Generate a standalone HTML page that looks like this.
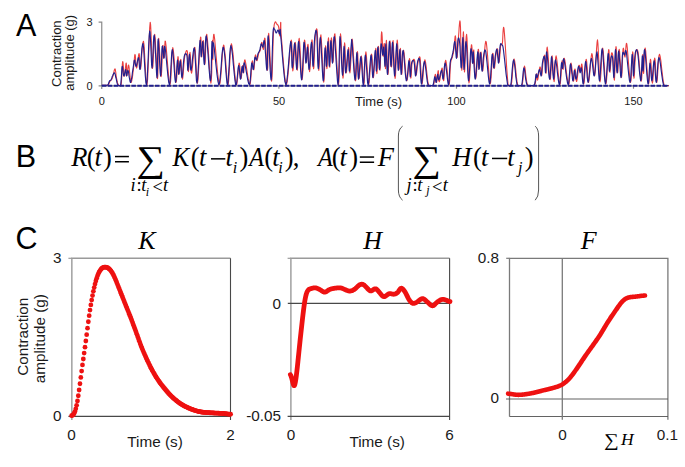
<!DOCTYPE html>
<html><head><meta charset="utf-8"><style>
html,body{margin:0;padding:0;background:#fff;}
svg{display:block;}
</style></head><body>
<svg width="685" height="467" viewBox="0 0 685 467">
<rect width="685" height="467" fill="#fff"/>
<g font-family="Liberation Sans" font-size="30.5" fill="#000"><text x="15.9" y="36.2">A</text><text x="15.7" y="166.6">B</text><text x="15.6" y="248.7">C</text></g><g font-family="Liberation Sans" font-size="13" fill="#1a1a1a"><text transform="translate(60.5,53.65) rotate(-90)" text-anchor="middle">Contraction</text><text transform="translate(74.4,52.75) rotate(-90)" text-anchor="middle">amplitude (g)</text><text x="354.98" y="106">Time (s)</text></g><g font-family="Liberation Sans" font-size="11" fill="#1a1a1a"><text x="92.6" y="25.9" text-anchor="end">3</text><text x="92.6" y="89.5" text-anchor="end">0</text><text x="101.75" y="104.9" text-anchor="middle">0</text><text x="279" y="104.9" text-anchor="middle">50</text><text x="456.5" y="104.9" text-anchor="middle">100</text><text x="633.5" y="104.9" text-anchor="middle">150</text></g><path d="M98.6,22.2 H101.75 V89 M101.75,85.8 H669 M278.9,85.8 V88.8 M456.5,85.8 V88.8 M633.5,85.8 V88.8 M98.6,85.8 H101.75" stroke="#8a8a8a" stroke-width="1.2" fill="none"/><path d="M102.1,85.3 L102.7,85.3 L103.5,85.3 L104.4,85.3 L105.4,85.4 L106.2,85.3 L106.9,85.3 L107.4,85.2 L107.7,85.2 L107.9,85.1 L108.1,85.0 L108.3,84.8 L108.5,84.5 L108.8,84.0 L109.0,83.5 L109.3,82.8 L109.6,82.1 L109.8,81.5 L110.1,81.0 L110.4,80.7 L110.6,80.4 L110.9,80.2 L111.2,80.1 L111.5,79.8 L111.7,79.5 L111.9,79.1 L112.1,78.6 L112.3,78.1 L112.5,77.5 L112.7,76.8 L113.0,76.0 L113.3,74.8 L113.6,73.3 L114.0,71.6 L114.3,70.1 L114.7,69.1 L115.0,68.8 L115.3,69.4 L115.5,70.8 L115.8,72.5 L116.0,74.5 L116.2,76.4 L116.5,78.0 L116.8,79.3 L117.0,80.6 L117.3,81.8 L117.5,82.9 L117.8,83.8 L118.2,84.5 L118.6,85.2 L119.1,85.6 L119.7,85.6 L120.2,85.6 L120.7,85.6 L121.1,85.3 L121.4,82.3 L121.7,77.8 L122.0,72.6 L122.2,67.6 L122.4,63.6 L122.7,61.6 L123.0,62.2 L123.2,64.7 L123.5,68.3 L123.7,72.0 L124.0,75.0 L124.3,76.3 L124.6,75.4 L125.0,73.0 L125.3,69.8 L125.6,66.6 L125.9,64.0 L126.2,63.0 L126.4,63.9 L126.5,66.1 L126.6,69.1 L126.7,72.2 L126.8,74.5 L127.0,75.6 L127.2,74.9 L127.4,72.7 L127.7,70.0 L128.0,67.3 L128.3,65.4 L128.6,65.0 L129.0,66.6 L129.3,69.9 L129.8,73.9 L130.2,77.9 L130.6,81.0 L131.0,82.5 L131.4,82.1 L131.8,80.5 L132.3,78.0 L132.7,75.1 L133.0,72.1 L133.4,69.5 L133.7,66.8 L134.0,63.6 L134.2,60.3 L134.5,57.4 L134.7,55.3 L135.0,54.4 L135.3,55.3 L135.5,57.8 L135.7,61.2 L136.0,64.5 L136.3,67.0 L136.6,68.0 L137.0,66.9 L137.4,64.1 L137.9,60.6 L138.3,57.2 L138.7,54.5 L139.1,53.5 L139.4,54.8 L139.6,58.0 L139.8,62.0 L140.0,65.8 L140.3,68.4 L140.6,68.8 L141.0,65.8 L141.4,60.1 L141.9,53.2 L142.4,46.7 L143.0,42.2 L143.5,41.2 L144.1,45.6 L144.6,54.5 L145.2,65.3 L145.8,75.7 L146.4,83.0 L147.0,85.0 L147.6,79.4 L148.1,67.9 L148.7,53.4 L149.2,39.0 L149.7,27.6 L150.2,22.2 L150.6,24.5 L151.0,32.5 L151.4,43.5 L151.8,55.0 L152.1,64.1 L152.5,68.5 L152.9,66.5 L153.2,60.1 L153.6,51.5 L153.9,42.8 L154.3,36.4 L154.7,34.3 L155.2,38.1 L155.6,46.4 L156.2,56.8 L156.7,67.2 L157.1,75.2 L157.5,78.6 L157.8,75.9 L158.0,68.6 L158.1,58.9 L158.3,49.1 L158.4,41.5 L158.7,38.4 L159.0,41.0 L159.4,47.9 L159.9,57.0 L160.3,66.2 L160.7,73.5 L161.1,76.7 L161.4,75.1 L161.7,69.9 L162.0,62.8 L162.2,55.3 L162.4,49.1 L162.7,45.6 L163.0,45.4 L163.2,47.4 L163.5,50.7 L163.8,54.1 L164.1,56.8 L164.3,57.7 L164.5,55.9 L164.6,52.2 L164.7,47.6 L164.9,43.5 L165.1,41.1 L165.5,41.5 L166.1,46.2 L166.8,54.5 L167.6,64.5 L168.4,74.1 L169.2,81.6 L169.9,84.8 L170.5,82.4 L171.0,75.7 L171.4,66.7 L171.9,57.6 L172.3,50.5 L172.8,47.5 L173.3,49.9 L173.9,56.0 L174.5,64.2 L175.0,72.6 L175.5,79.3 L176.0,82.4 L176.4,81.1 L176.8,76.7 L177.1,70.6 L177.4,64.3 L177.7,59.1 L178.0,56.6 L178.2,57.4 L178.4,60.4 L178.6,64.5 L178.8,68.9 L179.0,72.4 L179.2,73.9 L179.4,72.9 L179.7,70.2 L180.0,66.5 L180.2,62.9 L180.5,60.2 L180.8,59.4 L181.1,61.2 L181.3,65.0 L181.6,69.8 L181.9,74.4 L182.2,77.9 L182.5,79.1 L182.8,77.6 L183.2,74.1 L183.5,69.5 L183.9,64.5 L184.3,59.9 L184.7,56.7 L185.1,54.5 L185.6,52.7 L186.1,51.3 L186.5,50.6 L186.9,50.5 L187.3,51.3 L187.6,53.6 L187.8,57.6 L187.9,62.3 L188.1,66.8 L188.2,70.2 L188.4,71.6 L188.6,70.2 L188.9,66.7 L189.2,62.0 L189.4,57.3 L189.7,53.8 L190.0,52.4 L190.2,54.1 L190.5,58.1 L190.7,63.2 L190.9,68.3 L191.2,72.0 L191.6,73.2 L192.0,70.9 L192.6,65.7 L193.1,59.3 L193.7,53.0 L194.3,48.5 L194.8,47.2 L195.3,50.6 L195.7,57.7 L196.2,66.5 L196.6,75.0 L197.0,81.2 L197.5,83.2 L198.0,79.5 L198.5,71.5 L199.1,61.2 L199.6,50.7 L200.1,42.0 L200.5,37.2 L200.8,37.1 L201.0,40.2 L201.2,45.2 L201.3,50.5 L201.5,54.9 L201.7,56.9 L201.9,55.8 L202.2,52.6 L202.5,48.4 L202.8,44.3 L203.0,41.3 L203.3,40.5 L203.6,42.7 L203.8,47.4 L204.1,53.2 L204.3,58.8 L204.6,62.9 L204.9,64.2 L205.2,61.4 L205.4,55.3 L205.7,47.7 L206.0,40.4 L206.4,35.4 L206.8,34.3 L207.4,39.0 L208.1,48.1 L208.9,59.5 L209.6,70.7 L210.3,79.3 L210.9,83.1 L211.3,80.5 L211.7,73.3 L211.9,63.6 L212.1,53.4 L212.3,45.0 L212.5,40.4 L212.6,40.5 L212.7,43.8 L212.7,48.9 L212.8,54.2 L212.8,58.3 L212.9,59.6 L213.0,57.1 L213.1,51.7 L213.1,45.0 L213.3,38.8 L213.6,34.6 L214.0,34.3 L214.7,39.3 L215.5,48.8 L216.5,60.3 L217.5,71.7 L218.5,80.6 L219.3,84.8 L220.0,83.2 L220.7,77.3 L221.4,69.0 L222.0,60.1 L222.5,52.3 L223.0,47.6 L223.4,45.7 L223.7,45.1 L224.0,45.8 L224.2,47.4 L224.5,49.8 L224.9,52.7 L225.4,57.3 L225.9,64.1 L226.4,71.6 L227.0,78.5 L227.5,83.4 L228.1,84.8 L228.6,81.2 L229.1,73.5 L229.7,63.7 L230.2,54.0 L230.8,46.6 L231.4,43.7 L232.1,46.5 L233.0,53.6 L233.8,63.0 L234.7,72.7 L235.5,80.6 L236.2,84.8 L236.8,84.4 L237.3,80.8 L237.8,75.5 L238.3,69.9 L238.7,65.3 L239.1,63.1 L239.5,63.8 L239.8,66.5 L240.1,70.2 L240.4,74.0 L240.7,77.1 L241.0,78.5 L241.3,77.7 L241.6,75.5 L241.8,72.5 L242.1,69.4 L242.4,66.9 L242.6,65.6 L242.8,65.8 L243.0,67.2 L243.2,69.1 L243.3,71.0 L243.5,72.4 L243.7,72.6 L243.9,71.2 L244.0,68.5 L244.1,65.2 L244.3,62.1 L244.6,60.1 L245.0,59.9 L245.6,62.5 L246.4,67.2 L247.3,73.0 L248.2,78.7 L249.1,83.0 L249.8,84.8 L250.3,83.3 L250.8,79.3 L251.2,74.0 L251.5,68.4 L251.9,63.7 L252.2,61.1 L252.5,60.9 L252.8,62.5 L253.0,64.9 L253.3,67.4 L253.5,69.3 L253.8,69.8 L254.1,68.4 L254.3,65.8 L254.6,62.5 L254.9,59.2 L255.1,56.5 L255.4,55.0 L255.7,54.9 L255.9,55.8 L256.2,57.4 L256.5,59.0 L256.7,60.3 L257.0,60.7 L257.3,60.2 L257.5,59.1 L257.8,57.7 L258.1,56.1 L258.3,54.6 L258.6,53.5 L258.9,52.8 L259.1,52.3 L259.4,51.9 L259.7,51.6 L259.9,51.1 L260.2,50.3 L260.5,49.1 L260.7,47.5 L261.0,45.7 L261.3,44.1 L261.5,42.9 L261.8,42.4 L262.1,42.8 L262.3,44.2 L262.6,46.0 L262.9,47.7 L263.1,49.0 L263.4,49.3 L263.7,48.0 L263.9,45.4 L264.1,42.4 L264.4,39.6 L264.7,38.1 L265.0,38.6 L265.4,42.2 L265.8,48.5 L266.3,56.1 L266.7,63.2 L267.1,68.5 L267.5,70.3 L267.8,67.1 L267.9,59.9 L268.1,50.8 L268.2,42.0 L268.4,35.4 L268.7,33.4 L269.1,37.6 L269.6,46.6 L270.1,58.0 L270.6,69.2 L271.2,77.7 L271.6,81.1 L272.0,78.1 L272.3,70.6 L272.6,60.5 L272.9,49.5 L273.2,39.6 L273.5,32.6 L273.8,28.5 L274.1,25.9 L274.3,24.3 L274.6,23.4 L274.8,22.8 L275.1,22.2 L275.4,21.8 L275.6,21.9 L275.9,22.3 L276.2,22.9 L276.4,23.5 L276.7,24.0 L277.0,24.3 L277.3,24.5 L277.6,24.7 L277.9,25.1 L278.2,25.6 L278.5,26.4 L278.8,27.9 L279.0,29.9 L279.3,32.2 L279.5,34.2 L279.7,35.6 L279.9,35.9 L280.1,34.6 L280.2,31.9 L280.3,28.6 L280.5,25.4 L280.6,23.0 L280.7,22.2 L280.8,22.9 L280.8,24.5 L280.8,26.9 L280.9,30.1 L281.1,34.2 L281.5,39.0 L282.1,46.0 L282.8,55.5 L283.7,65.8 L284.6,75.2 L285.5,82.1 L286.4,84.8 L287.2,81.7 L288.1,73.8 L289.0,63.3 L289.8,52.7 L290.6,44.1 L291.2,40.0 L291.6,41.5 L291.9,46.9 L292.2,54.5 L292.3,62.2 L292.5,68.3 L292.8,70.9 L293.2,68.9 L293.6,63.7 L294.0,56.7 L294.4,49.8 L294.8,44.4 L295.2,42.2 L295.6,44.3 L295.9,49.5 L296.3,56.4 L296.6,63.2 L297.0,68.3 L297.3,70.2 L297.6,67.5 L297.9,61.3 L298.2,53.4 L298.5,45.8 L298.8,40.1 L299.2,38.4 L299.6,41.9 L300.1,49.7 L300.6,59.5 L301.1,69.1 L301.6,76.6 L302.1,79.6 L302.5,77.0 L303.0,70.1 L303.4,61.0 L303.8,51.7 L304.1,44.0 L304.5,40.1 L304.8,40.7 L305.2,44.4 L305.5,49.8 L305.8,55.6 L306.1,60.2 L306.4,62.3 L306.7,61.1 L307.0,57.6 L307.2,52.9 L307.5,48.4 L307.7,45.1 L308.0,44.3 L308.3,46.9 L308.5,52.2 L308.8,58.8 L309.0,65.2 L309.3,69.9 L309.6,71.6 L310.0,69.0 L310.4,63.1 L310.8,55.6 L311.2,48.1 L311.6,42.3 L312.0,39.8 L312.3,41.8 L312.6,47.2 L312.9,54.3 L313.1,61.3 L313.3,66.8 L313.6,68.8 L313.9,66.8 L314.1,61.9 L314.4,55.4 L314.6,48.3 L314.9,42.0 L315.2,37.5 L315.5,34.4 L315.9,31.8 L316.2,29.8 L316.5,28.8 L316.9,29.1 L317.2,31.0 L317.5,35.8 L317.7,43.5 L318.0,52.6 L318.2,61.2 L318.5,67.7 L318.8,70.5 L319.1,67.9 L319.4,61.1 L319.8,52.2 L320.1,43.4 L320.5,36.9 L320.9,34.9 L321.3,39.0 L321.8,47.6 L322.3,58.6 L322.8,69.5 L323.3,78.1 L323.7,82.1 L324.1,80.2 L324.4,74.0 L324.7,65.5 L325.0,56.6 L325.3,49.4 L325.6,45.8 L325.8,46.8 L326.1,51.0 L326.3,56.9 L326.5,62.8 L326.7,67.3 L326.9,68.7 L327.2,65.9 L327.4,60.1 L327.7,52.8 L328.0,45.5 L328.2,40.0 L328.5,37.7 L328.7,39.8 L328.9,45.2 L329.2,52.3 L329.4,59.5 L329.6,65.0 L329.8,67.2 L330.0,65.1 L330.3,59.8 L330.6,52.9 L330.9,45.8 L331.1,40.3 L331.4,37.9 L331.7,39.5 L331.9,44.0 L332.2,50.1 L332.4,56.1 L332.7,60.7 L333.0,62.3 L333.3,59.7 L333.5,53.8 L333.8,46.4 L334.1,39.3 L334.5,34.5 L334.9,33.7 L335.4,38.8 L336.0,48.6 L336.7,60.7 L337.4,72.4 L338.0,81.3 L338.5,84.8 L338.9,81.1 L339.3,71.9 L339.6,59.8 L339.9,47.6 L340.2,38.1 L340.5,33.9 L340.9,36.7 L341.3,44.6 L341.8,55.1 L342.2,65.8 L342.6,74.3 L343.0,78.2 L343.3,76.1 L343.6,69.9 L343.9,61.4 L344.1,52.8 L344.3,45.9 L344.6,42.9 L344.9,44.8 L345.1,50.1 L345.3,57.3 L345.6,64.6 L345.9,70.4 L346.2,72.9 L346.6,71.3 L347.0,66.7 L347.4,60.6 L347.9,54.4 L348.3,49.6 L348.6,47.6 L348.9,49.6 L349.1,54.3 L349.3,60.5 L349.5,66.6 L349.7,71.2 L349.9,72.9 L350.2,70.9 L350.5,66.2 L350.9,60.1 L351.2,53.5 L351.5,47.8 L351.8,43.9 L352.0,41.6 L352.1,39.9 L352.1,39.0 L352.2,39.0 L352.4,40.1 L352.6,42.5 L353.0,47.4 L353.4,54.9 L354.0,63.4 L354.5,71.6 L355.1,77.9 L355.5,80.8 L355.9,79.2 L356.2,74.0 L356.5,66.9 L356.8,59.7 L357.1,54.0 L357.4,51.6 L357.7,53.4 L357.9,58.3 L358.2,64.7 L358.4,71.2 L358.7,76.4 L359.0,78.7 L359.4,77.2 L359.7,72.9 L360.2,67.2 L360.6,61.6 L361.0,57.4 L361.4,56.0 L361.8,58.5 L362.2,64.1 L362.6,71.0 L363.0,77.9 L363.4,83.0 L363.8,84.8 L364.2,82.1 L364.5,76.0 L364.8,68.1 L365.2,60.3 L365.5,54.3 L365.9,51.9 L366.3,54.3 L366.7,60.4 L367.2,68.2 L367.7,76.1 L368.1,82.2 L368.6,84.8 L369.1,82.7 L369.6,77.3 L370.1,70.1 L370.6,62.7 L371.1,56.9 L371.5,54.1 L371.9,55.5 L372.2,59.9 L372.5,65.8 L372.8,71.7 L373.1,76.1 L373.4,77.6 L373.8,75.1 L374.2,69.8 L374.7,62.9 L375.1,56.1 L375.5,50.8 L375.8,48.4 L376.1,50.1 L376.2,54.8 L376.4,60.9 L376.6,67.2 L376.7,71.9 L376.9,73.7 L377.1,71.6 L377.4,66.6 L377.6,60.1 L377.9,53.6 L378.1,48.5 L378.4,46.3 L378.7,48.1 L378.9,52.8 L379.2,59.0 L379.5,65.0 L379.7,69.3 L380.0,70.3 L380.3,66.8 L380.5,59.8 L380.8,51.0 L381.1,42.3 L381.3,35.3 L381.6,31.8 L381.9,32.7 L382.2,36.7 L382.4,42.4 L382.7,48.6 L383.0,53.6 L383.2,56.3 L383.4,55.9 L383.6,53.4 L383.8,49.9 L383.9,46.3 L384.1,43.9 L384.3,43.5 L384.5,46.1 L384.7,51.0 L384.9,57.0 L385.1,62.8 L385.3,67.0 L385.5,68.6 L385.7,66.2 L385.8,60.8 L385.9,53.9 L386.1,47.1 L386.2,42.1 L386.4,40.4 L386.6,43.2 L386.9,49.7 L387.1,57.8 L387.4,65.9 L387.7,72.0 L388.0,74.5 L388.3,72.1 L388.6,66.1 L388.9,58.1 L389.3,50.0 L389.6,43.6 L389.9,40.7 L390.2,42.2 L390.5,47.0 L390.7,53.4 L391.0,59.9 L391.2,64.9 L391.5,67.0 L391.8,64.9 L392.0,59.7 L392.3,53.0 L392.5,46.5 L392.8,41.8 L393.1,40.5 L393.4,44.0 L393.7,51.3 L394.1,60.3 L394.4,69.2 L394.8,75.9 L395.1,78.5 L395.5,75.8 L395.8,68.8 L396.2,59.8 L396.5,50.6 L396.9,43.4 L397.2,40.0 L397.5,41.7 L397.8,46.8 L398.0,53.9 L398.3,61.2 L398.5,67.1 L398.8,69.9 L399.1,68.7 L399.3,64.8 L399.6,59.4 L399.9,53.9 L400.2,49.8 L400.4,48.4 L400.6,50.5 L400.8,55.4 L401.0,61.5 L401.2,67.6 L401.5,72.3 L401.7,74.3 L402.0,72.6 L402.2,68.0 L402.5,62.0 L402.8,56.1 L403.2,51.7 L403.6,50.3 L404.1,52.8 L404.6,58.4 L405.2,65.4 L405.7,72.5 L406.3,78.1 L406.8,80.7 L407.3,79.6 L407.8,75.7 L408.3,70.3 L408.7,64.8 L409.1,60.4 L409.5,58.5 L409.8,59.8 L410.0,63.2 L410.2,67.9 L410.4,72.6 L410.6,76.4 L410.8,78.2 L411.0,77.5 L411.2,75.3 L411.4,72.0 L411.6,68.5 L411.8,65.3 L412.1,63.1 L412.4,61.7 L412.8,60.5 L413.3,59.7 L413.7,59.3 L414.1,59.4 L414.5,60.1 L414.8,61.9 L415.1,64.8 L415.3,68.2 L415.6,71.4 L415.8,73.9 L416.1,75.0 L416.4,74.4 L416.7,72.5 L417.0,69.9 L417.3,66.9 L417.7,64.3 L418.0,62.3 L418.3,60.7 L418.7,59.1 L419.1,57.7 L419.4,56.8 L419.8,56.8 L420.1,57.9 L420.4,61.1 L420.7,66.2 L421.0,72.2 L421.3,77.9 L421.6,82.2 L422.0,84.0 L422.4,82.3 L422.9,77.8 L423.3,71.9 L423.8,66.0 L424.4,61.5 L424.9,59.7 L425.4,61.3 L426.0,65.3 L426.6,70.7 L427.2,76.4 L427.8,81.5 L428.5,84.8 L429.3,85.6 L430.1,85.6 L431.0,85.6 L431.9,85.6 L432.6,85.6 L433.3,85.3 L433.8,83.9 L434.2,81.8 L434.5,79.3 L434.8,77.0 L435.0,75.2 L435.3,74.3 L435.6,74.8 L435.8,76.3 L436.0,78.4 L436.2,80.5 L436.4,82.0 L436.6,82.4 L436.9,81.3 L437.1,79.1 L437.4,76.3 L437.7,73.5 L438.0,71.4 L438.2,70.6 L438.4,71.4 L438.5,73.5 L438.7,76.3 L438.8,79.0 L439.0,81.1 L439.3,81.8 L439.7,80.6 L440.2,78.0 L440.7,74.8 L441.2,71.6 L441.7,69.0 L442.1,68.0 L442.4,69.0 L442.7,71.5 L442.9,74.8 L443.2,77.9 L443.4,80.2 L443.7,80.7 L444.0,78.7 L444.3,74.6 L444.6,69.7 L444.9,64.9 L445.3,61.4 L445.7,60.2 L446.2,62.3 L446.8,66.8 L447.4,72.6 L448.0,78.4 L448.5,82.9 L449.0,84.8 L449.4,83.7 L449.7,80.4 L449.9,75.8 L450.1,70.9 L450.4,66.3 L450.6,63.1 L450.9,61.3 L451.1,60.1 L451.4,59.4 L451.7,58.9 L451.9,58.3 L452.2,57.5 L452.5,56.5 L452.7,55.5 L453.0,54.4 L453.3,53.3 L453.5,51.9 L453.8,50.3 L454.1,47.9 L454.3,44.7 L454.6,41.3 L454.9,38.3 L455.1,36.3 L455.4,35.9 L455.7,37.9 L455.9,42.1 L456.2,47.2 L456.5,52.2 L456.7,56.0 L457.0,57.5 L457.3,56.3 L457.5,53.1 L457.8,48.7 L458.1,43.8 L458.3,39.1 L458.6,35.5 L458.9,32.0 L459.1,28.1 L459.4,24.5 L459.7,21.8 L459.9,20.8 L460.2,22.2 L460.5,27.6 L460.7,36.8 L461.0,47.7 L461.3,58.3 L461.5,66.4 L461.8,70.1 L462.1,67.8 L462.4,60.8 L462.6,51.4 L462.9,42.0 L463.2,34.6 L463.4,31.8 L463.6,34.9 L463.8,42.3 L463.9,51.9 L464.1,61.5 L464.3,68.9 L464.5,72.0 L464.8,69.2 L465.1,62.0 L465.5,52.6 L465.8,43.4 L466.2,36.5 L466.6,34.3 L467.0,38.4 L467.4,47.4 L467.8,58.7 L468.2,70.0 L468.6,78.9 L469.0,83.0 L469.4,81.0 L469.8,74.6 L470.2,65.7 L470.7,56.4 L471.0,48.8 L471.4,44.7 L471.7,44.9 L472.0,48.0 L472.3,52.6 L472.6,57.6 L472.8,61.7 L473.0,63.7 L473.2,62.8 L473.3,60.0 L473.4,56.2 L473.5,52.6 L473.6,50.2 L473.8,50.0 L474.0,53.0 L474.3,58.6 L474.6,65.3 L475.0,71.8 L475.3,76.7 L475.7,78.6 L476.1,76.5 L476.6,71.3 L477.1,64.5 L477.5,57.5 L477.9,51.9 L478.3,49.2 L478.6,50.0 L478.8,53.4 L478.9,58.2 L479.1,63.1 L479.2,67.0 L479.4,68.7 L479.6,67.6 L479.9,64.5 L480.2,60.4 L480.4,56.2 L480.7,53.1 L481.0,52.0 L481.3,53.5 L481.5,57.0 L481.8,61.4 L482.1,65.9 L482.3,69.5 L482.6,71.0 L482.9,70.4 L483.1,68.2 L483.4,65.1 L483.6,61.5 L483.9,58.0 L484.2,55.1 L484.5,52.2 L484.8,48.6 L485.1,45.1 L485.5,42.4 L485.8,41.2 L486.3,42.3 L486.8,46.9 L487.5,54.8 L488.2,64.3 L488.9,73.4 L489.5,80.6 L490.1,84.0 L490.6,82.5 L491.1,77.4 L491.5,70.3 L492.0,62.8 L492.3,56.5 L492.7,53.2 L493.0,53.4 L493.3,55.9 L493.6,59.7 L493.8,63.7 L494.0,67.0 L494.3,68.4 L494.6,67.7 L494.8,65.8 L495.1,63.1 L495.4,60.1 L495.6,57.2 L495.9,55.1 L496.2,53.4 L496.4,51.8 L496.7,50.3 L497.0,49.2 L497.2,48.7 L497.5,48.8 L497.8,50.2 L498.0,52.9 L498.3,56.1 L498.6,59.2 L498.8,61.4 L499.1,62.1 L499.4,60.9 L499.6,58.2 L499.9,54.7 L500.2,51.0 L500.4,47.8 L500.7,45.5 L501.0,44.5 L501.2,44.3 L501.5,44.5 L501.8,44.7 L502.0,44.6 L502.3,43.7 L502.6,41.1 L502.8,37.0 L503.0,32.6 L503.3,28.9 L503.6,27.2 L504.0,28.6 L504.5,34.4 L505.2,43.9 L505.9,55.3 L506.6,66.9 L507.4,77.1 L508.0,84.0 L508.6,85.6 L509.1,85.6 L509.7,85.6 L510.2,85.6 L510.7,85.6 L511.2,85.3 L511.7,81.9 L512.2,76.7 L512.6,70.6 L513.1,65.0 L513.6,60.7 L514.1,59.0 L514.6,60.6 L515.2,64.7 L515.8,70.3 L516.3,76.2 L517.0,81.4 L517.6,84.8 L518.3,85.6 L519.1,85.6 L519.9,85.6 L520.7,85.6 L521.5,85.6 L522.1,85.3 L522.6,82.8 L523.0,79.0 L523.4,74.6 L523.7,70.4 L524.1,67.4 L524.5,66.1 L524.9,67.3 L525.3,70.2 L525.7,74.2 L526.2,78.5 L526.8,82.3 L527.5,84.8 L528.5,85.6 L529.7,85.6 L531.1,85.6 L532.4,85.6 L533.6,85.6 L534.5,85.3 L535.1,83.9 L535.6,81.7 L535.9,79.2 L536.1,76.8 L536.3,74.8 L536.5,73.8 L536.7,74.1 L536.9,75.3 L537.0,77.1 L537.2,78.8 L537.4,80.0 L537.6,80.1 L537.9,78.8 L538.3,76.3 L538.8,73.3 L539.2,70.4 L539.6,68.0 L540.0,66.9 L540.3,67.3 L540.6,68.9 L540.9,71.2 L541.2,73.4 L541.5,75.1 L541.7,75.6 L541.9,74.7 L542.1,72.8 L542.3,70.4 L542.5,67.7 L542.7,65.2 L542.9,63.1 L543.2,61.2 L543.5,59.2 L543.9,57.3 L544.3,55.8 L544.6,55.1 L544.9,55.3 L545.1,57.3 L545.4,61.0 L545.6,65.4 L545.7,69.5 L545.9,72.5 L546.1,73.2 L546.3,70.7 L546.4,65.6 L546.5,59.2 L546.7,53.1 L546.9,48.6 L547.2,47.1 L547.6,49.8 L548.1,55.7 L548.6,63.2 L549.1,70.8 L549.6,76.8 L550.1,79.7 L550.5,78.4 L550.8,74.0 L551.2,68.1 L551.5,62.1 L551.8,57.5 L552.1,55.8 L552.4,57.8 L552.8,62.6 L553.1,68.8 L553.4,75.0 L553.8,79.7 L554.1,81.6 L554.4,79.7 L554.7,74.8 L555.0,68.6 L555.3,62.3 L555.7,57.6 L556.1,55.9 L556.6,58.2 L557.3,63.5 L557.9,70.2 L558.6,77.1 L559.3,82.4 L559.8,84.8 L560.3,83.5 L560.7,79.6 L561.1,74.2 L561.4,68.5 L561.7,63.7 L562.0,61.0 L562.2,60.7 L562.4,62.1 L562.6,64.4 L562.8,66.9 L562.9,68.8 L563.1,69.4 L563.3,68.3 L563.4,65.8 L563.6,62.7 L563.7,59.9 L564.0,58.2 L564.4,58.3 L565.0,61.1 L565.7,66.1 L566.4,72.2 L567.2,78.1 L568.0,82.7 L568.6,84.8 L569.1,83.5 L569.5,79.6 L569.9,74.4 L570.3,69.1 L570.6,64.9 L571.0,63.0 L571.4,64.1 L571.8,67.3 L572.2,71.5 L572.7,75.9 L573.0,79.4 L573.4,81.2 L573.7,80.6 L574.0,78.4 L574.2,75.4 L574.5,72.3 L574.7,69.8 L575.0,68.9 L575.3,69.9 L575.5,72.3 L575.8,75.4 L576.0,78.5 L576.3,80.8 L576.6,81.5 L577.0,80.2 L577.4,77.4 L577.8,73.7 L578.2,70.0 L578.6,67.0 L579.0,65.2 L579.3,65.2 L579.6,66.3 L579.9,68.0 L580.1,69.9 L580.4,71.3 L580.6,71.9 L580.8,71.1 L581.0,69.4 L581.2,67.2 L581.4,65.2 L581.7,64.0 L581.9,64.2 L582.2,66.4 L582.5,70.4 L582.8,75.2 L583.1,79.7 L583.4,83.0 L583.8,84.0 L584.2,81.9 L584.6,77.2 L585.0,71.4 L585.4,65.5 L585.8,61.0 L586.2,59.2 L586.6,60.8 L587.0,65.3 L587.4,71.0 L587.7,76.7 L588.2,81.0 L588.6,82.4 L589.1,80.0 L589.6,74.7 L590.2,68.0 L590.7,61.3 L591.3,56.0 L591.8,53.5 L592.3,54.9 L592.8,59.2 L593.3,65.0 L593.8,70.6 L594.2,74.7 L594.7,75.6 L595.2,72.1 L595.7,65.1 L596.1,56.5 L596.6,48.2 L597.1,42.0 L597.5,39.9 L597.9,43.3 L598.3,51.0 L598.8,60.8 L599.2,70.7 L599.6,78.5 L600.0,82.0 L600.4,79.9 L600.9,73.7 L601.3,65.4 L601.8,57.0 L602.2,50.6 L602.7,48.1 L603.2,50.9 L603.7,57.5 L604.3,66.1 L604.8,74.7 L605.4,81.3 L605.9,84.0 L606.4,81.7 L606.9,75.6 L607.4,67.6 L607.9,59.4 L608.3,52.7 L608.7,49.5 L609.0,50.5 L609.2,54.4 L609.4,59.9 L609.5,65.7 L609.7,70.3 L609.9,72.3 L610.1,71.3 L610.4,68.3 L610.7,64.1 L611.0,59.6 L611.2,55.8 L611.5,53.6 L611.8,52.8 L612.0,52.8 L612.3,53.4 L612.6,54.6 L612.9,56.3 L613.1,58.3 L613.3,61.6 L613.5,66.3 L613.8,71.6 L614.0,76.3 L614.2,79.4 L614.4,80.1 L614.6,77.0 L614.9,70.8 L615.2,63.0 L615.5,55.3 L615.7,49.3 L616.0,46.6 L616.3,48.1 L616.5,52.7 L616.8,59.1 L617.1,65.6 L617.3,70.7 L617.6,72.8 L617.9,71.2 L618.1,66.8 L618.4,61.0 L618.6,55.2 L618.9,50.8 L619.2,49.3 L619.6,51.7 L619.9,56.9 L620.4,63.6 L620.8,70.2 L621.1,75.3 L621.5,77.3 L621.8,75.3 L622.1,70.6 L622.3,64.2 L622.6,57.6 L622.8,52.0 L623.1,48.7 L623.4,48.2 L623.7,49.6 L624.0,51.9 L624.4,54.5 L624.7,56.5 L625.0,57.1 L625.3,55.5 L625.5,52.4 L625.8,48.6 L626.1,45.3 L626.4,43.4 L626.8,43.9 L627.3,48.1 L627.9,55.5 L628.6,64.2 L629.3,72.8 L629.9,79.4 L630.5,82.4 L631.0,80.7 L631.4,75.3 L631.7,67.9 L632.1,60.4 L632.4,54.5 L632.7,51.9 L633.0,53.6 L633.2,58.3 L633.4,64.6 L633.6,71.0 L633.8,76.0 L634.0,78.1 L634.2,76.8 L634.5,73.1 L634.7,68.0 L635.0,62.5 L635.3,57.6 L635.6,54.3 L635.9,52.3 L636.3,50.7 L636.7,49.8 L637.1,49.6 L637.5,50.2 L638.0,51.9 L638.5,55.6 L639.1,61.4 L639.6,68.0 L640.2,74.3 L640.8,79.1 L641.2,81.1 L641.6,79.4 L641.9,74.7 L642.1,68.5 L642.4,62.2 L642.6,57.1 L642.8,54.6 L643.0,55.6 L643.1,59.2 L643.2,64.0 L643.3,68.8 L643.4,72.3 L643.6,73.4 L643.8,71.1 L644.0,66.0 L644.2,59.6 L644.5,53.6 L644.8,49.2 L645.2,48.0 L645.7,51.1 L646.2,57.7 L646.8,66.0 L647.4,74.2 L648.0,80.8 L648.5,84.0 L648.9,82.8 L649.3,78.4 L649.6,72.3 L649.9,66.1 L650.2,61.2 L650.5,59.2 L650.8,60.9 L651.1,65.4 L651.4,71.2 L651.7,77.0 L652.1,81.5 L652.4,83.2 L652.8,81.3 L653.1,76.6 L653.5,70.6 L653.9,64.6 L654.3,59.9 L654.7,58.0 L655.1,59.8 L655.4,64.4 L655.7,70.4 L656.1,76.3 L656.4,80.8 L656.8,82.4 L657.2,80.1 L657.6,74.7 L658.0,67.9 L658.4,61.2 L658.9,56.1 L659.5,54.2 L660.1,56.2 L660.9,61.1 L661.6,67.7 L662.4,74.6 L663.2,80.8 L664.0,84.8 L664.8,85.6 L665.8,85.6 L666.7,85.6 L667.5,85.6 L668.3,85.6 L668.8,85.3" stroke="#ea4040" stroke-width="1.1" fill="none" stroke-linejoin="round"/><path d="M101.6,85.3 L102.2,85.3 L103.0,85.3 L103.9,85.3 L104.9,85.4 L105.7,85.3 L106.4,85.3 L106.9,85.2 L107.2,85.2 L107.4,85.1 L107.6,85.0 L107.8,84.8 L108.0,84.5 L108.3,84.0 L108.5,83.5 L108.8,82.8 L109.1,82.1 L109.3,81.5 L109.6,81.0 L109.9,80.7 L110.1,80.4 L110.4,80.2 L110.7,80.1 L111.0,79.8 L111.2,79.5 L111.4,79.0 L111.6,78.5 L111.8,77.9 L112.0,77.2 L112.2,76.6 L112.5,76.0 L112.8,75.4 L113.1,74.6 L113.5,73.9 L113.8,73.2 L114.2,72.8 L114.5,72.8 L114.8,73.2 L115.0,73.9 L115.3,74.8 L115.5,75.9 L115.7,77.0 L116.0,78.0 L116.3,79.1 L116.5,80.3 L116.8,81.5 L117.0,82.7 L117.3,83.7 L117.7,84.5 L118.1,85.2 L118.6,85.6 L119.2,85.6 L119.7,85.6 L120.2,85.6 L120.6,85.3 L120.9,83.0 L121.2,79.4 L121.5,75.3 L121.7,71.3 L121.9,68.1 L122.2,66.4 L122.5,66.5 L122.7,68.1 L123.0,70.4 L123.2,72.9 L123.5,75.0 L123.8,76.0 L124.1,75.7 L124.5,74.5 L124.8,72.9 L125.1,71.3 L125.4,70.0 L125.7,69.5 L125.9,70.0 L126.0,71.1 L126.1,72.7 L126.2,74.2 L126.3,75.5 L126.5,76.0 L126.7,75.6 L126.9,74.4 L127.2,72.9 L127.5,71.5 L127.8,70.5 L128.1,70.5 L128.5,71.8 L128.8,74.1 L129.2,77.0 L129.7,79.7 L130.1,81.7 L130.5,82.5 L130.9,81.7 L131.3,79.9 L131.8,77.3 L132.2,74.5 L132.5,71.8 L132.9,69.5 L133.2,67.5 L133.5,65.5 L133.8,63.5 L134.0,61.9 L134.2,60.6 L134.5,60.0 L134.8,60.3 L135.0,61.5 L135.2,63.2 L135.5,64.8 L135.8,66.0 L136.1,66.4 L136.5,65.6 L136.9,63.8 L137.4,61.7 L137.8,59.6 L138.2,58.0 L138.6,57.6 L138.9,58.8 L139.1,61.4 L139.3,64.6 L139.5,67.6 L139.8,69.5 L140.1,69.5 L140.5,66.6 L140.9,61.2 L141.4,54.7 L141.9,48.6 L142.5,44.5 L143.0,43.6 L143.6,47.7 L144.1,55.9 L144.7,66.1 L145.3,75.8 L145.9,82.8 L146.5,85.0 L147.1,80.5 L147.6,70.7 L148.2,58.3 L148.7,45.8 L149.2,35.8 L149.7,31.0 L150.1,32.7 L150.5,39.2 L150.9,48.2 L151.3,57.5 L151.6,64.8 L152.0,68.0 L152.4,65.7 L152.7,59.4 L153.1,51.1 L153.4,43.0 L153.8,36.9 L154.2,35.0 L154.7,38.7 L155.1,46.6 L155.7,56.6 L156.2,66.6 L156.6,74.3 L157.0,77.6 L157.3,75.0 L157.5,67.9 L157.6,58.6 L157.8,49.3 L157.9,42.0 L158.2,39.0 L158.5,41.6 L158.9,48.2 L159.4,56.9 L159.8,65.8 L160.2,72.8 L160.6,76.0 L160.9,74.4 L161.2,69.5 L161.5,62.7 L161.7,55.6 L161.9,49.6 L162.2,46.3 L162.5,46.2 L162.7,48.1 L163.0,51.1 L163.3,54.5 L163.6,57.2 L163.8,58.3 L164.0,57.2 L164.1,54.4 L164.2,51.0 L164.4,48.0 L164.6,46.3 L165.0,47.0 L165.6,51.3 L166.3,58.7 L167.1,67.4 L167.9,75.8 L168.7,82.2 L169.4,84.8 L170.0,82.4 L170.5,75.9 L170.9,67.5 L171.4,58.9 L171.8,52.3 L172.3,49.5 L172.8,51.7 L173.4,57.5 L174.0,65.1 L174.5,73.0 L175.0,79.3 L175.5,82.4 L175.9,81.4 L176.3,77.7 L176.6,72.4 L176.9,66.8 L177.2,62.2 L177.5,60.0 L177.7,60.6 L177.9,63.1 L178.1,66.7 L178.3,70.3 L178.5,73.2 L178.7,74.4 L178.9,73.4 L179.2,70.8 L179.5,67.4 L179.7,64.0 L180.0,61.5 L180.3,60.7 L180.6,62.2 L180.8,65.5 L181.1,69.6 L181.4,73.6 L181.7,76.6 L182.0,77.6 L182.3,76.1 L182.7,72.7 L183.0,68.3 L183.4,63.6 L183.8,59.5 L184.2,56.7 L184.6,55.1 L185.1,54.1 L185.6,53.6 L186.0,53.7 L186.4,54.2 L186.8,55.1 L187.1,57.0 L187.3,60.1 L187.4,63.6 L187.6,66.9 L187.7,69.4 L187.9,70.3 L188.1,69.1 L188.4,66.1 L188.7,62.2 L188.9,58.4 L189.2,55.5 L189.5,54.3 L189.7,55.6 L190.0,58.7 L190.2,62.7 L190.4,66.6 L190.7,69.5 L191.1,70.3 L191.5,68.1 L192.1,63.5 L192.6,57.9 L193.2,52.5 L193.8,48.7 L194.3,47.9 L194.8,51.3 L195.2,58.3 L195.7,66.8 L196.1,75.1 L196.5,81.2 L197.0,83.2 L197.5,79.9 L198.0,72.6 L198.6,63.2 L199.1,53.4 L199.6,45.3 L200.0,40.7 L200.3,40.3 L200.5,42.9 L200.7,47.0 L200.8,51.5 L201.0,55.2 L201.2,56.7 L201.4,55.5 L201.7,52.5 L202.0,48.6 L202.3,44.9 L202.5,42.2 L202.8,41.5 L203.1,43.7 L203.3,48.3 L203.6,54.0 L203.8,59.4 L204.1,63.4 L204.4,64.7 L204.7,62.1 L204.9,56.2 L205.2,48.9 L205.5,42.0 L205.9,37.0 L206.3,35.9 L206.9,40.1 L207.6,48.5 L208.4,59.0 L209.1,69.3 L209.8,77.3 L210.4,80.8 L210.8,78.5 L211.2,71.9 L211.4,62.9 L211.6,53.6 L211.8,45.8 L212.0,41.5 L212.1,41.4 L212.2,44.1 L212.2,48.4 L212.3,53.0 L212.3,56.7 L212.4,58.3 L212.5,57.0 L212.6,53.5 L212.6,49.1 L212.8,45.1 L213.1,42.7 L213.5,43.1 L214.2,47.6 L215.0,55.6 L216.0,65.2 L217.0,74.4 L218.0,81.6 L218.8,84.8 L219.5,83.0 L220.2,77.6 L220.9,70.0 L221.5,61.9 L222.0,54.8 L222.5,50.3 L222.9,48.2 L223.2,47.3 L223.5,47.3 L223.7,48.3 L224.0,50.2 L224.4,52.7 L224.9,57.2 L225.4,63.8 L225.9,71.4 L226.5,78.3 L227.0,83.2 L227.6,84.8 L228.1,81.5 L228.6,74.1 L229.2,64.7 L229.7,55.4 L230.3,48.3 L230.9,45.5 L231.6,48.2 L232.5,54.9 L233.3,63.9 L234.2,73.1 L235.0,80.7 L235.7,84.8 L236.3,84.6 L236.8,81.5 L237.3,76.8 L237.8,71.7 L238.2,67.5 L238.6,65.5 L239.0,66.2 L239.3,68.6 L239.6,72.0 L239.9,75.4 L240.2,78.1 L240.5,79.2 L240.8,78.4 L241.1,76.2 L241.3,73.2 L241.6,70.1 L241.9,67.6 L242.1,66.3 L242.3,66.5 L242.5,67.6 L242.7,69.4 L242.8,71.1 L243.0,72.4 L243.2,72.8 L243.4,71.7 L243.5,69.5 L243.6,66.8 L243.8,64.4 L244.1,62.8 L244.5,62.8 L245.1,65.1 L245.9,69.4 L246.8,74.5 L247.7,79.5 L248.6,83.3 L249.3,84.8 L249.8,83.4 L250.3,79.8 L250.7,74.9 L251.0,69.9 L251.4,65.6 L251.7,63.1 L252.0,62.8 L252.3,63.8 L252.5,65.7 L252.8,67.7 L253.0,69.2 L253.3,69.5 L253.6,68.4 L253.8,66.3 L254.1,63.8 L254.4,61.1 L254.6,58.9 L254.9,57.5 L255.2,57.2 L255.4,57.6 L255.7,58.3 L256.0,59.2 L256.2,59.8 L256.5,59.9 L256.8,59.3 L257.0,58.3 L257.3,57.0 L257.6,55.7 L257.8,54.5 L258.1,53.5 L258.4,52.8 L258.6,52.3 L258.9,51.9 L259.2,51.5 L259.4,51.0 L259.7,50.3 L260.0,49.3 L260.2,48.0 L260.5,46.7 L260.8,45.4 L261.0,44.4 L261.3,43.9 L261.6,44.0 L261.8,44.6 L262.1,45.5 L262.4,46.3 L262.6,47.0 L262.9,47.1 L263.2,46.3 L263.4,44.6 L263.6,42.7 L263.9,41.1 L264.2,40.5 L264.5,41.5 L264.9,45.0 L265.3,50.9 L265.8,57.7 L266.2,64.1 L266.6,68.8 L267.0,70.3 L267.3,67.3 L267.4,60.6 L267.6,52.1 L267.7,43.9 L267.9,37.8 L268.2,35.9 L268.6,39.8 L269.1,48.2 L269.6,58.8 L270.1,69.2 L270.7,77.0 L271.1,80.0 L271.5,76.9 L271.8,69.3 L272.1,59.3 L272.4,48.5 L272.7,39.0 L273.0,32.6 L273.3,29.4 L273.6,28.0 L273.8,27.8 L274.1,28.3 L274.3,29.0 L274.6,29.4 L274.9,29.7 L275.1,30.3 L275.4,31.2 L275.7,32.0 L275.9,32.7 L276.2,33.0 L276.5,32.8 L276.8,32.2 L277.1,31.5 L277.4,30.7 L277.7,30.2 L278.0,30.0 L278.3,30.4 L278.5,31.1 L278.8,32.1 L279.0,33.0 L279.2,33.8 L279.4,34.0 L279.6,33.6 L279.7,32.6 L279.8,31.3 L280.0,30.2 L280.1,29.4 L280.2,29.4 L280.3,29.8 L280.3,30.2 L280.3,31.0 L280.4,32.6 L280.6,35.1 L281.0,39.0 L281.6,45.6 L282.3,54.9 L283.2,65.2 L284.1,74.8 L285.0,81.9 L285.9,84.8 L286.7,81.9 L287.6,74.4 L288.5,64.4 L289.3,54.1 L290.1,45.7 L290.7,41.5 L291.1,42.5 L291.4,47.1 L291.7,53.6 L291.8,60.4 L292.0,65.8 L292.3,68.0 L292.7,66.2 L293.1,61.6 L293.5,55.6 L293.9,49.5 L294.3,44.9 L294.7,43.1 L295.1,45.2 L295.4,50.1 L295.8,56.5 L296.1,62.8 L296.5,67.7 L296.8,69.5 L297.1,67.2 L297.4,61.7 L297.7,54.7 L298.0,47.9 L298.3,42.9 L298.7,41.5 L299.1,45.0 L299.6,52.2 L300.1,61.4 L300.6,70.3 L301.1,77.2 L301.6,80.0 L302.0,77.4 L302.5,70.9 L302.9,62.3 L303.3,53.4 L303.6,46.1 L304.0,42.3 L304.3,42.8 L304.7,46.3 L305.0,51.3 L305.3,56.7 L305.6,61.1 L305.9,63.1 L306.2,62.1 L306.5,59.1 L306.7,55.0 L307.0,51.0 L307.2,48.0 L307.5,47.1 L307.8,49.2 L308.0,53.6 L308.2,59.0 L308.5,64.3 L308.8,68.2 L309.1,69.5 L309.5,67.2 L309.9,62.2 L310.3,55.8 L310.7,49.4 L311.1,44.4 L311.5,42.3 L311.8,43.9 L312.1,48.5 L312.4,54.4 L312.6,60.3 L312.8,64.8 L313.1,66.3 L313.4,64.3 L313.6,59.7 L313.9,53.7 L314.1,47.3 L314.4,41.5 L314.7,37.5 L315.0,34.8 L315.4,32.6 L315.7,31.0 L316.0,30.3 L316.4,30.8 L316.7,32.6 L317.0,37.0 L317.2,44.1 L317.5,52.3 L317.7,60.1 L318.0,66.1 L318.3,68.7 L318.6,66.5 L318.9,60.5 L319.3,52.6 L319.6,44.9 L320.0,39.2 L320.4,37.5 L320.8,41.3 L321.3,49.2 L321.8,59.3 L322.3,69.3 L322.8,77.1 L323.2,80.8 L323.6,79.1 L323.9,73.6 L324.2,65.9 L324.5,57.9 L324.8,51.3 L325.1,47.9 L325.3,48.5 L325.6,51.8 L325.8,56.6 L326.0,61.5 L326.2,65.1 L326.4,66.3 L326.7,64.1 L326.9,59.4 L327.2,53.5 L327.5,47.7 L327.7,43.3 L328.0,41.5 L328.2,43.3 L328.4,48.0 L328.7,54.0 L328.9,59.9 L329.1,64.5 L329.3,66.3 L329.5,64.4 L329.8,59.7 L330.1,53.6 L330.4,47.5 L330.6,42.8 L330.9,40.7 L331.2,42.2 L331.4,46.4 L331.7,52.0 L331.9,57.5 L332.2,61.6 L332.5,63.1 L332.8,60.7 L333.0,55.2 L333.3,48.3 L333.6,41.8 L334.0,37.4 L334.4,36.7 L334.9,41.5 L335.5,50.8 L336.2,62.1 L336.9,73.1 L337.5,81.5 L338.0,84.8 L338.4,81.3 L338.8,72.7 L339.1,61.4 L339.4,49.9 L339.7,40.8 L340.0,36.7 L340.4,38.9 L340.8,45.6 L341.3,54.8 L341.7,64.2 L342.1,71.7 L342.5,75.2 L342.8,73.6 L343.1,68.5 L343.4,61.5 L343.6,54.3 L343.8,48.7 L344.1,46.3 L344.4,48.1 L344.6,52.9 L344.8,59.2 L345.1,65.6 L345.4,70.6 L345.7,72.8 L346.1,71.3 L346.5,67.1 L346.9,61.5 L347.4,55.8 L347.8,51.4 L348.1,49.5 L348.4,51.1 L348.6,55.2 L348.8,60.6 L349.0,65.9 L349.2,69.9 L349.4,71.2 L349.7,69.2 L350.0,64.7 L350.4,59.0 L350.7,52.9 L351.0,47.5 L351.3,43.9 L351.5,41.8 L351.6,40.3 L351.6,39.5 L351.7,39.6 L351.9,40.7 L352.1,43.1 L352.5,47.8 L352.9,55.0 L353.5,63.2 L354.0,71.1 L354.6,77.1 L355.0,80.0 L355.4,78.5 L355.7,73.7 L356.0,67.0 L356.3,60.2 L356.6,54.9 L356.9,52.7 L357.2,54.6 L357.4,59.4 L357.7,65.7 L357.9,72.0 L358.2,77.0 L358.5,79.2 L358.9,77.7 L359.2,73.5 L359.7,67.9 L360.1,62.3 L360.5,58.1 L360.9,56.7 L361.3,59.1 L361.7,64.5 L362.1,71.2 L362.5,77.8 L362.9,82.9 L363.3,84.8 L363.7,82.5 L364.0,77.0 L364.3,69.8 L364.7,62.7 L365.0,57.3 L365.4,55.1 L365.8,57.3 L366.2,62.8 L366.7,69.9 L367.2,77.1 L367.6,82.6 L368.1,84.8 L368.6,82.7 L369.1,77.4 L369.6,70.4 L370.1,63.3 L370.6,57.7 L371.0,55.1 L371.4,56.4 L371.7,60.6 L372.0,66.2 L372.3,71.9 L372.6,76.1 L372.9,77.6 L373.3,75.4 L373.7,70.4 L374.2,64.0 L374.6,57.7 L375.0,52.6 L375.3,50.3 L375.6,51.5 L375.7,55.4 L375.9,60.5 L376.1,65.8 L376.2,69.8 L376.4,71.2 L376.6,69.2 L376.9,64.8 L377.1,59.1 L377.4,53.4 L377.6,48.9 L377.9,47.1 L378.2,48.7 L378.4,52.9 L378.7,58.4 L379.0,63.9 L379.2,68.0 L379.5,69.5 L379.8,67.6 L380.0,63.2 L380.3,57.4 L380.6,51.5 L380.8,46.6 L381.1,43.9 L381.4,43.9 L381.7,45.6 L381.9,48.4 L382.2,51.4 L382.5,53.9 L382.7,55.1 L382.9,54.6 L383.1,52.8 L383.3,50.6 L383.4,48.5 L383.6,47.1 L383.8,47.1 L384.0,49.2 L384.2,53.0 L384.4,57.6 L384.6,62.0 L384.8,65.2 L385.0,66.3 L385.2,64.4 L385.3,60.0 L385.4,54.4 L385.6,49.0 L385.7,45.1 L385.9,43.9 L386.1,46.7 L386.4,52.5 L386.6,59.8 L386.9,67.0 L387.2,72.4 L387.5,74.4 L387.8,71.9 L388.1,66.0 L388.4,58.3 L388.8,50.5 L389.1,44.4 L389.4,41.5 L389.7,42.9 L390.0,47.3 L390.2,53.3 L390.5,59.5 L390.7,64.3 L391.0,66.3 L391.3,64.5 L391.5,59.8 L391.8,53.7 L392.0,47.8 L392.3,43.5 L392.6,42.3 L392.9,45.3 L393.2,51.7 L393.6,59.7 L393.9,67.5 L394.3,73.5 L394.6,76.0 L395.0,73.8 L395.3,68.0 L395.7,60.4 L396.0,52.7 L396.4,46.6 L396.7,43.9 L397.0,45.5 L397.3,50.1 L397.5,56.4 L397.8,62.8 L398.0,68.0 L398.3,70.3 L398.6,69.0 L398.8,65.2 L399.1,60.0 L399.4,54.8 L399.7,50.9 L399.9,49.5 L400.1,51.6 L400.3,56.2 L400.5,62.2 L400.7,68.0 L401.0,72.6 L401.2,74.4 L401.5,72.6 L401.7,68.0 L402.0,62.0 L402.3,56.1 L402.7,51.7 L403.1,50.3 L403.6,52.8 L404.1,58.3 L404.7,65.3 L405.2,72.4 L405.8,78.0 L406.3,80.8 L406.8,80.0 L407.3,76.5 L407.8,71.7 L408.2,66.6 L408.6,62.5 L409.0,60.7 L409.3,61.6 L409.5,64.5 L409.7,68.3 L409.9,72.3 L410.1,75.4 L410.3,76.8 L410.5,76.1 L410.7,74.0 L410.9,71.1 L411.1,67.9 L411.3,65.0 L411.6,63.1 L411.9,61.9 L412.3,61.1 L412.8,60.5 L413.2,60.4 L413.6,60.7 L414.0,61.5 L414.3,63.3 L414.6,66.2 L414.8,69.5 L415.1,72.7 L415.3,75.0 L415.6,76.0 L415.9,75.2 L416.2,73.1 L416.5,70.2 L416.8,67.1 L417.2,64.3 L417.5,62.3 L417.8,60.9 L418.2,59.7 L418.6,58.7 L418.9,58.3 L419.3,58.6 L419.6,59.9 L419.9,62.9 L420.2,67.7 L420.5,73.2 L420.8,78.4 L421.1,82.4 L421.5,84.0 L421.9,82.4 L422.4,78.3 L422.8,72.8 L423.3,67.3 L423.9,63.1 L424.4,61.5 L424.9,63.0 L425.5,66.7 L426.1,71.7 L426.7,77.0 L427.3,81.7 L428.0,84.8 L428.8,85.6 L429.6,85.6 L430.5,85.6 L431.4,85.6 L432.1,85.6 L432.8,85.3 L433.3,84.2 L433.7,82.6 L434.0,80.7 L434.3,78.9 L434.5,77.5 L434.8,76.8 L435.1,77.1 L435.3,78.1 L435.5,79.6 L435.7,81.0 L435.9,82.1 L436.1,82.4 L436.4,81.7 L436.6,80.2 L436.9,78.4 L437.2,76.6 L437.5,75.1 L437.7,74.4 L437.9,74.7 L438.0,75.8 L438.2,77.3 L438.3,78.8 L438.5,79.8 L438.8,80.0 L439.2,79.1 L439.7,77.2 L440.2,74.9 L440.7,72.7 L441.2,71.0 L441.6,70.3 L441.9,71.0 L442.2,72.8 L442.4,75.2 L442.7,77.4 L442.9,78.9 L443.2,79.2 L443.5,77.5 L443.8,74.3 L444.1,70.3 L444.4,66.6 L444.8,63.9 L445.2,63.1 L445.7,65.0 L446.3,69.1 L446.9,74.3 L447.5,79.4 L448.0,83.3 L448.5,84.8 L448.9,83.5 L449.2,80.2 L449.4,75.7 L449.6,70.7 L449.9,66.3 L450.1,63.1 L450.4,61.3 L450.6,60.1 L450.9,59.4 L451.2,58.9 L451.4,58.3 L451.7,57.5 L452.0,56.4 L452.2,55.3 L452.5,54.1 L452.8,52.9 L453.0,51.6 L453.3,50.3 L453.6,48.6 L453.8,46.5 L454.1,44.4 L454.4,42.6 L454.6,41.5 L454.9,41.5 L455.2,43.2 L455.4,46.5 L455.7,50.6 L456.0,54.4 L456.2,57.3 L456.5,58.3 L456.8,56.9 L457.0,53.7 L457.3,49.5 L457.6,45.1 L457.8,41.4 L458.1,39.1 L458.4,38.2 L458.6,37.9 L458.9,38.3 L459.2,39.4 L459.4,41.0 L459.7,43.1 L460.0,46.7 L460.2,51.9 L460.5,57.7 L460.8,63.0 L461.0,66.8 L461.3,68.0 L461.6,65.4 L461.9,59.6 L462.1,52.3 L462.4,45.1 L462.7,39.6 L462.9,37.5 L463.1,39.9 L463.3,45.8 L463.4,53.3 L463.6,61.0 L463.8,66.9 L464.0,69.5 L464.3,67.5 L464.6,62.1 L465.0,55.0 L465.3,48.1 L465.7,43.0 L466.1,41.5 L466.5,45.0 L466.9,52.3 L467.3,61.4 L467.7,70.5 L468.1,77.6 L468.5,80.8 L468.9,79.0 L469.3,73.7 L469.8,66.3 L470.2,58.6 L470.5,52.2 L470.9,48.7 L471.2,48.7 L471.5,51.0 L471.8,54.6 L472.1,58.5 L472.3,61.6 L472.5,63.1 L472.7,62.3 L472.8,59.8 L472.9,56.7 L473.0,53.7 L473.1,51.8 L473.3,51.9 L473.5,54.9 L473.8,60.2 L474.1,66.6 L474.5,72.7 L474.8,77.4 L475.2,79.2 L475.6,77.3 L476.1,72.5 L476.6,66.2 L477.0,59.7 L477.4,54.5 L477.8,51.9 L478.1,52.6 L478.3,55.7 L478.4,60.0 L478.6,64.5 L478.7,68.0 L478.9,69.5 L479.1,68.3 L479.4,65.1 L479.7,61.0 L479.9,57.0 L480.2,53.9 L480.5,52.7 L480.8,54.1 L481.0,57.5 L481.3,61.9 L481.6,66.3 L481.8,69.7 L482.1,71.2 L482.4,70.4 L482.6,67.9 L482.9,64.5 L483.1,60.8 L483.4,57.4 L483.7,55.1 L484.0,53.4 L484.3,51.8 L484.6,50.5 L485.0,49.9 L485.3,50.2 L485.8,51.9 L486.3,55.9 L487.0,62.3 L487.7,69.6 L488.4,76.6 L489.0,81.8 L489.6,84.0 L490.1,82.1 L490.6,77.1 L491.0,70.3 L491.5,63.3 L491.8,57.5 L492.2,54.3 L492.5,54.4 L492.8,56.6 L493.1,60.1 L493.3,63.8 L493.5,66.8 L493.8,68.0 L494.1,67.3 L494.3,65.4 L494.6,62.8 L494.9,59.8 L495.1,57.1 L495.4,55.1 L495.7,53.5 L495.9,52.0 L496.2,50.6 L496.5,49.7 L496.7,49.2 L497.0,49.5 L497.3,51.0 L497.5,53.8 L497.8,57.1 L498.1,60.2 L498.3,62.4 L498.6,63.1 L498.9,61.8 L499.1,58.9 L499.4,55.2 L499.7,51.3 L499.9,47.8 L500.2,45.5 L500.5,44.3 L500.7,43.8 L501.0,43.6 L501.3,43.9 L501.5,44.3 L501.8,44.7 L502.1,44.9 L502.3,45.1 L502.5,45.3 L502.8,46.1 L503.1,47.7 L503.5,50.3 L504.0,54.7 L504.7,60.7 L505.4,67.4 L506.1,74.1 L506.9,79.9 L507.5,84.0 L508.1,85.6 L508.6,85.6 L509.2,85.6 L509.7,85.6 L510.2,85.6 L510.7,85.3 L511.2,82.0 L511.7,76.9 L512.1,71.1 L512.6,65.6 L513.1,61.5 L513.6,59.9 L514.1,61.4 L514.7,65.4 L515.3,70.7 L515.8,76.4 L516.5,81.5 L517.1,84.8 L517.8,85.6 L518.6,85.6 L519.4,85.6 L520.2,85.6 L521.0,85.6 L521.6,85.3 L522.1,83.0 L522.5,79.6 L522.9,75.6 L523.2,71.8 L523.6,69.0 L524.0,67.9 L524.4,68.9 L524.8,71.6 L525.2,75.2 L525.7,79.1 L526.3,82.5 L527.0,84.8 L528.0,85.6 L529.2,85.6 L530.6,85.6 L531.9,85.6 L533.1,85.6 L534.0,85.3 L534.6,84.0 L535.1,82.0 L535.4,79.7 L535.6,77.4 L535.8,75.5 L536.0,74.4 L536.2,74.2 L536.4,74.8 L536.5,75.8 L536.7,76.8 L536.9,77.6 L537.1,77.6 L537.4,76.7 L537.8,75.2 L538.3,73.3 L538.7,71.5 L539.1,70.1 L539.5,69.5 L539.8,70.0 L540.1,71.3 L540.4,73.0 L540.7,74.7 L541.0,75.9 L541.2,76.0 L541.4,74.9 L541.6,72.9 L541.8,70.4 L542.0,67.6 L542.2,65.1 L542.4,63.1 L542.7,61.4 L543.0,59.7 L543.4,58.1 L543.8,56.9 L544.1,56.4 L544.4,56.7 L544.6,58.5 L544.9,61.8 L545.1,65.7 L545.2,69.3 L545.4,72.0 L545.6,72.8 L545.8,70.9 L545.9,66.8 L546.0,61.6 L546.2,56.7 L546.4,53.0 L546.7,51.9 L547.1,54.2 L547.6,59.3 L548.1,65.7 L548.6,72.0 L549.1,77.0 L549.6,79.2 L550.0,77.8 L550.3,73.7 L550.7,68.2 L551.0,62.7 L551.3,58.4 L551.6,56.7 L551.9,58.3 L552.3,62.4 L552.6,67.8 L552.9,73.1 L553.3,77.3 L553.6,79.2 L553.9,77.9 L554.2,74.2 L554.5,69.4 L554.8,64.6 L555.2,61.0 L555.6,59.9 L556.1,62.0 L556.8,66.7 L557.4,72.5 L558.1,78.3 L558.8,82.8 L559.3,84.8 L559.8,83.6 L560.2,80.0 L560.6,75.2 L560.9,70.1 L561.2,65.7 L561.5,63.1 L561.7,62.6 L561.9,63.4 L562.1,65.0 L562.3,66.8 L562.4,68.1 L562.6,68.5 L562.8,67.4 L562.9,65.2 L563.1,62.5 L563.2,60.2 L563.5,58.8 L563.9,59.1 L564.5,61.9 L565.2,66.8 L565.9,72.7 L566.7,78.4 L567.5,82.8 L568.1,84.8 L568.6,83.6 L569.0,79.9 L569.4,74.9 L569.8,69.8 L570.1,65.7 L570.5,63.9 L570.9,64.8 L571.3,67.7 L571.7,71.7 L572.2,75.8 L572.5,79.1 L572.9,80.8 L573.2,80.4 L573.5,78.6 L573.8,76.0 L574.0,73.4 L574.2,71.2 L574.5,70.3 L574.8,70.9 L575.0,72.6 L575.2,74.9 L575.5,77.1 L575.8,78.8 L576.1,79.2 L576.5,78.1 L576.9,75.8 L577.3,72.9 L577.7,70.0 L578.1,67.6 L578.5,66.3 L578.8,66.4 L579.1,67.4 L579.4,69.0 L579.6,70.8 L579.9,72.1 L580.1,72.8 L580.3,72.4 L580.5,71.3 L580.7,69.8 L580.9,68.5 L581.2,67.7 L581.4,68.0 L581.7,69.9 L582.0,73.2 L582.3,77.1 L582.6,80.7 L582.9,83.3 L583.3,84.0 L583.7,82.0 L584.1,77.7 L584.5,72.4 L584.9,67.2 L585.3,63.2 L585.7,61.5 L586.1,63.0 L586.5,66.9 L586.9,72.0 L587.2,77.2 L587.7,81.0 L588.1,82.4 L588.6,80.5 L589.1,76.2 L589.7,70.5 L590.2,64.9 L590.8,60.4 L591.3,58.3 L591.8,59.3 L592.3,62.7 L592.8,67.2 L593.3,71.6 L593.7,75.0 L594.2,76.0 L594.7,73.8 L595.2,69.1 L595.6,63.2 L596.1,57.6 L596.6,53.3 L597.0,51.9 L597.4,54.4 L597.8,59.9 L598.3,66.8 L598.7,73.7 L599.1,78.9 L599.5,80.8 L599.9,78.2 L600.4,72.1 L600.8,64.4 L601.3,56.7 L601.7,50.9 L602.2,48.7 L602.7,51.4 L603.2,57.9 L603.8,66.2 L604.3,74.6 L604.9,81.1 L605.4,84.0 L605.9,82.2 L606.4,76.9 L606.9,69.8 L607.4,62.5 L607.8,56.6 L608.2,53.5 L608.5,54.0 L608.7,57.0 L608.9,61.3 L609.0,65.8 L609.2,69.5 L609.4,71.2 L609.6,70.6 L609.9,68.4 L610.2,65.4 L610.5,62.2 L610.7,59.3 L611.0,57.5 L611.3,56.6 L611.5,56.0 L611.8,55.8 L612.1,56.1 L612.4,56.9 L612.6,58.3 L612.8,61.0 L613.0,65.1 L613.2,69.8 L613.5,74.0 L613.7,76.9 L613.9,77.6 L614.1,75.1 L614.4,69.8 L614.7,63.3 L615.0,56.8 L615.2,51.8 L615.5,49.5 L615.8,50.9 L616.0,55.1 L616.3,60.8 L616.6,66.5 L616.8,70.9 L617.1,72.8 L617.4,71.2 L617.6,67.1 L617.9,61.8 L618.1,56.4 L618.4,52.4 L618.7,51.1 L619.1,53.3 L619.4,58.2 L619.9,64.5 L620.3,70.7 L620.6,75.6 L621.0,77.6 L621.3,76.2 L621.6,72.4 L621.8,67.1 L622.1,61.5 L622.3,56.6 L622.6,53.5 L622.9,52.3 L623.2,52.3 L623.5,52.9 L623.9,53.9 L624.2,54.7 L624.5,55.0 L624.8,54.4 L625.0,53.1 L625.3,51.6 L625.6,50.6 L625.9,50.5 L626.3,51.9 L626.8,55.7 L627.4,61.7 L628.1,68.7 L628.8,75.3 L629.4,80.3 L630.0,82.4 L630.5,80.5 L630.9,75.5 L631.2,68.9 L631.6,62.1 L631.9,56.8 L632.2,54.3 L632.5,55.5 L632.7,59.5 L632.9,64.8 L633.1,70.1 L633.3,74.3 L633.5,76.0 L633.7,74.7 L634.0,71.3 L634.2,66.7 L634.5,61.7 L634.8,57.3 L635.1,54.3 L635.4,52.4 L635.8,50.9 L636.2,49.9 L636.6,49.7 L637.0,50.3 L637.5,51.9 L638.0,55.5 L638.6,61.2 L639.1,67.8 L639.7,74.0 L640.3,78.7 L640.7,80.8 L641.1,79.3 L641.4,75.0 L641.6,69.2 L641.9,63.2 L642.1,58.3 L642.3,55.9 L642.5,56.6 L642.6,59.4 L642.7,63.4 L642.8,67.4 L642.9,70.3 L643.1,71.2 L643.3,69.1 L643.5,64.6 L643.7,59.2 L644.0,53.9 L644.3,50.3 L644.7,49.5 L645.2,52.6 L645.7,58.9 L646.3,66.7 L646.9,74.5 L647.5,80.8 L648.0,84.0 L648.4,83.3 L648.8,79.7 L649.1,74.6 L649.4,69.3 L649.7,65.0 L650.0,63.1 L650.3,64.3 L650.6,67.5 L650.9,71.9 L651.2,76.3 L651.6,79.6 L651.9,80.8 L652.3,79.2 L652.6,75.4 L653.0,70.5 L653.4,65.7 L653.8,62.1 L654.2,60.7 L654.6,62.4 L654.9,66.6 L655.2,71.9 L655.6,77.1 L655.9,81.0 L656.3,82.4 L656.7,80.3 L657.1,75.6 L657.5,69.6 L657.9,63.7 L658.4,59.2 L659.0,57.5 L659.6,59.3 L660.4,63.7 L661.1,69.6 L661.9,75.8 L662.7,81.2 L663.5,84.8 L664.3,85.6 L665.3,85.6 L666.2,85.6 L667.0,85.6 L667.8,85.6 L668.3,85.3" stroke="#22208e" stroke-width="1.15" fill="none" stroke-linejoin="round"/><path d="M101.9,85.7 H668" stroke="#22208e" stroke-width="1.9" stroke-dasharray="4.5,1.4" fill="none"/><g font-family="Liberation Serif" fill="#000"><text x="71.23" y="166.00" font-size="26.5" font-style="italic">R</text><text x="86.81" y="166.00" font-size="26.5" font-style="normal">(</text><text x="94.51" y="166.00" font-size="26.5" font-style="italic">t</text><text x="102.94" y="166.00" font-size="26.5" font-style="normal">)</text><text transform="translate(172.51,166.00) scale(0.95,1)" font-size="26.5" font-style="italic">K</text><text x="190.81" y="166.00" font-size="26.5" font-style="normal">(</text><text x="199.11" y="166.00" font-size="26.5" font-style="italic">t</text><text x="225.61" y="166.00" font-size="26.5" font-style="italic">t</text><text x="239.44" y="166.00" font-size="26.5" font-style="normal">)</text><text transform="translate(249.33,166.00) scale(0.91,1)" font-size="26.5" font-style="italic">A</text><text x="264.21" y="166.00" font-size="26.5" font-style="normal">(</text><text x="272.31" y="166.00" font-size="26.5" font-style="italic">t</text><text x="284.64" y="166.00" font-size="26.5" font-style="normal">)</text><text x="292.71" y="166.00" font-size="26.5" font-style="normal">,</text><text transform="translate(318.03,166.00) scale(0.91,1)" font-size="26.5" font-style="italic">A</text><text x="331.81" y="166.00" font-size="26.5" font-style="normal">(</text><text x="339.51" y="166.00" font-size="26.5" font-style="italic">t</text><text x="349.24" y="166.00" font-size="26.5" font-style="normal">)</text><text x="377.83" y="166.00" font-size="26.5" font-style="italic">F</text><text x="452.26" y="166.00" font-size="26.5" font-style="italic">H</text><text x="473.11" y="166.00" font-size="26.5" font-style="normal">(</text><text x="481.01" y="166.00" font-size="26.5" font-style="italic">t</text><text x="507.31" y="166.00" font-size="26.5" font-style="italic">t</text><text x="524.64" y="166.00" font-size="26.5" font-style="normal">)</text><text x="232.82" y="172.70" font-size="16" font-style="italic">i</text><text x="278.32" y="172.70" font-size="16" font-style="italic">i</text><text x="518.12" y="172.70" font-size="16" font-style="italic">j</text><text transform="translate(136.41,171) scale(1.1,1)" font-size="36.2">&#8721;</text><text transform="translate(412.61,171.4) scale(1.1,1)" font-size="36.2">&#8721;</text><text x="130.58" y="190.80" font-size="18.5" font-style="italic">i</text><text x="136.42" y="190.80" font-size="18.5" font-style="normal">:</text><text x="141.27" y="190.80" font-size="18.5" font-style="italic">t</text><text x="162.97" y="190.80" font-size="18.5" font-style="italic">t</text><text x="152.38" y="192.50" font-size="18.5" font-style="normal">&lt;</text><text x="145.74" y="196.00" font-size="12" font-style="italic">i</text><text x="406.49" y="190.80" font-size="18.5" font-style="italic">j</text><text x="412.62" y="190.80" font-size="18.5" font-style="normal">:</text><text x="417.17" y="190.80" font-size="18.5" font-style="italic">t</text><text x="442.87" y="190.80" font-size="18.5" font-style="italic">t</text><text x="431.88" y="192.50" font-size="18.5" font-style="normal">&lt;</text><text x="426.29" y="194.00" font-size="12" font-style="italic">j</text></g><rect x="115" y="155.8" width="13.9" height="1.5" fill="#000"/><rect x="115" y="161.0" width="13.9" height="1.5" fill="#000"/><rect x="359.8" y="156.3" width="14.3" height="1.5" fill="#000"/><rect x="359.8" y="161.5" width="14.3" height="1.5" fill="#000"/><rect x="211" y="158.1" width="14.3" height="1.5" fill="#000"/><rect x="492" y="157.7" width="15.2" height="1.5" fill="#000"/><path d="M402.6,126.2 Q398.4,129 398.4,136 V190 Q398.4,197 402.6,200.2" stroke="#555" stroke-width="1" fill="none"/><path d="M535.2,126.2 Q538.6,129 538.6,136 V190 Q538.6,197 535.2,200.2" stroke="#555" stroke-width="1" fill="none"/><g font-family="Liberation Sans" font-size="15.3" fill="#1a1a1a"><text transform="translate(27.5,336.75) rotate(-90)" text-anchor="middle">Contraction</text><text transform="translate(44.9,338.7) rotate(-90)" text-anchor="middle">amplitude (g)</text><text x="127.32" y="446.5">Time (s)</text><text x="349.42" y="446.5">Time (s)</text><text x="61.5" y="262.7" text-anchor="end">3</text><text x="61.5" y="421.2" text-anchor="end">0</text><text x="71.55" y="440.4" text-anchor="middle">0</text><text x="230.6" y="440.4" text-anchor="middle">2</text><text x="281" y="309.2" text-anchor="end">0</text><text x="281" y="421.2" text-anchor="end">-0.05</text><text x="290.9" y="440.4" text-anchor="middle">0</text><text x="449.5" y="440.4" text-anchor="middle">6</text><text x="498.9" y="262.7" text-anchor="end">0.8</text><text x="498.9" y="403.4" text-anchor="end">0</text><text x="562.4" y="440.4" text-anchor="middle">0</text><text x="667.5" y="440.4" text-anchor="middle">0.1</text></g><g font-family="Liberation Serif" font-style="italic" font-size="26" fill="#000"><text x="138.32" y="249.4">K</text><text x="363.26" y="249.4">H</text><text x="580.83" y="249.4">F</text></g><text transform="translate(603.98,445.8) scale(1.14,1)" font-family="Liberation Serif" font-size="18">&#8721;</text><text x="620.97" y="444.9" font-family="Liberation Serif" font-style="italic" font-size="17.5">H</text><path d="M71.85,420 V258.3 H230.5" stroke="#9a9a9a" stroke-width="1.4" fill="none"/><path d="M68.4,258.3 H71.85" stroke="#9a9a9a" stroke-width="1.2"/><path d="M230.5,258.3 V420 M68.4,416.4 H230.5" stroke="#484848" stroke-width="1.1" fill="none"/><path d="M290.9,420 V258.3 H449.6" stroke="#9a9a9a" stroke-width="1.4" fill="none"/><path d="M287.6,258.3 H290.9" stroke="#9a9a9a" stroke-width="1.2"/><path d="M449.6,258.3 V420 M287.6,416.4 H449.6 M287.8,303.4 H449.6" stroke="#484848" stroke-width="1.1" fill="none"/><path d="M509.5,416.5 V258.3 H667.9 V419.8" stroke="#7a7a7a" stroke-width="1.3" fill="none"/><path d="M506.2,258.3 H509.5" stroke="#7a7a7a" stroke-width="1.2"/><path d="M509.5,416.5 H667.9 M506,399 H667.9" stroke="#484848" stroke-width="1.1" fill="none" opacity="0.85"/><path d="M562.3,258.3 V419.8" stroke="#7a7a7a" stroke-width="1.3" fill="none"/><g fill="#ee1111"><circle cx="71.60" cy="415.71" r="2.4"/><circle cx="72.44" cy="415.34" r="2.4"/><circle cx="73.27" cy="414.65" r="2.4"/><circle cx="74.11" cy="413.46" r="2.4"/><circle cx="74.95" cy="411.56" r="2.4"/><circle cx="75.78" cy="408.85" r="2.4"/><circle cx="76.62" cy="405.29" r="2.4"/><circle cx="77.46" cy="400.89" r="2.4"/><circle cx="78.29" cy="395.74" r="2.4"/><circle cx="79.13" cy="389.98" r="2.4"/><circle cx="79.97" cy="383.77" r="2.4"/><circle cx="80.81" cy="377.38" r="2.4"/><circle cx="81.64" cy="371.05" r="2.4"/><circle cx="82.48" cy="364.92" r="2.4"/><circle cx="83.32" cy="358.98" r="2.4"/><circle cx="84.15" cy="353.10" r="2.4"/><circle cx="84.99" cy="347.16" r="2.4"/><circle cx="85.83" cy="341.02" r="2.4"/><circle cx="86.66" cy="334.64" r="2.4"/><circle cx="87.50" cy="328.14" r="2.4"/><circle cx="88.34" cy="321.73" r="2.4"/><circle cx="89.17" cy="315.68" r="2.4"/><circle cx="90.01" cy="310.08" r="2.4"/><circle cx="90.85" cy="304.89" r="2.4"/><circle cx="91.68" cy="300.05" r="2.4"/><circle cx="92.52" cy="295.53" r="2.4"/><circle cx="93.36" cy="291.36" r="2.4"/><circle cx="94.19" cy="287.55" r="2.4"/><circle cx="95.03" cy="284.08" r="2.4"/><circle cx="95.87" cy="280.94" r="2.4"/><circle cx="96.71" cy="278.16" r="2.4"/><circle cx="97.54" cy="275.73" r="2.4"/><circle cx="98.38" cy="273.66" r="2.4"/><circle cx="99.22" cy="271.94" r="2.4"/><circle cx="100.05" cy="270.53" r="2.4"/><circle cx="100.89" cy="269.39" r="2.4"/><circle cx="101.73" cy="268.51" r="2.4"/><circle cx="102.56" cy="267.85" r="2.4"/><circle cx="103.40" cy="267.40" r="2.4"/><circle cx="104.24" cy="267.14" r="2.4"/><circle cx="105.07" cy="267.07" r="2.4"/><circle cx="105.91" cy="267.16" r="2.4"/><circle cx="106.75" cy="267.40" r="2.4"/><circle cx="107.58" cy="267.77" r="2.4"/><circle cx="108.42" cy="268.29" r="2.4"/><circle cx="109.26" cy="268.96" r="2.4"/><circle cx="110.09" cy="269.80" r="2.4"/><circle cx="110.93" cy="270.82" r="2.4"/><circle cx="111.77" cy="272.03" r="2.4"/><circle cx="112.61" cy="273.41" r="2.4"/><circle cx="113.44" cy="274.98" r="2.4"/><circle cx="114.28" cy="276.72" r="2.4"/><circle cx="115.12" cy="278.61" r="2.4"/><circle cx="115.95" cy="280.62" r="2.4"/><circle cx="116.79" cy="282.69" r="2.4"/><circle cx="117.63" cy="284.79" r="2.4"/><circle cx="118.46" cy="286.89" r="2.4"/><circle cx="119.30" cy="288.99" r="2.4"/><circle cx="120.14" cy="291.09" r="2.4"/><circle cx="120.97" cy="293.20" r="2.4"/><circle cx="121.81" cy="295.31" r="2.4"/><circle cx="122.65" cy="297.42" r="2.4"/><circle cx="123.48" cy="299.54" r="2.4"/><circle cx="124.32" cy="301.66" r="2.4"/><circle cx="125.16" cy="303.78" r="2.4"/><circle cx="125.99" cy="305.89" r="2.4"/><circle cx="126.83" cy="307.98" r="2.4"/><circle cx="127.67" cy="310.05" r="2.4"/><circle cx="128.51" cy="312.11" r="2.4"/><circle cx="129.34" cy="314.17" r="2.4"/><circle cx="130.18" cy="316.26" r="2.4"/><circle cx="131.02" cy="318.41" r="2.4"/><circle cx="131.85" cy="320.63" r="2.4"/><circle cx="132.69" cy="322.91" r="2.4"/><circle cx="133.53" cy="325.21" r="2.4"/><circle cx="134.36" cy="327.49" r="2.4"/><circle cx="135.20" cy="329.76" r="2.4"/><circle cx="136.04" cy="332.02" r="2.4"/><circle cx="136.87" cy="334.31" r="2.4"/><circle cx="137.71" cy="336.64" r="2.4"/><circle cx="138.55" cy="339.00" r="2.4"/><circle cx="139.38" cy="341.36" r="2.4"/><circle cx="140.22" cy="343.66" r="2.4"/><circle cx="141.06" cy="345.88" r="2.4"/><circle cx="141.89" cy="348.01" r="2.4"/><circle cx="142.73" cy="350.05" r="2.4"/><circle cx="143.57" cy="352.03" r="2.4"/><circle cx="144.41" cy="353.97" r="2.4"/><circle cx="145.24" cy="355.86" r="2.4"/><circle cx="146.08" cy="357.72" r="2.4"/><circle cx="146.92" cy="359.54" r="2.4"/><circle cx="147.75" cy="361.34" r="2.4"/><circle cx="148.59" cy="363.10" r="2.4"/><circle cx="149.43" cy="364.83" r="2.4"/><circle cx="150.26" cy="366.51" r="2.4"/><circle cx="151.10" cy="368.15" r="2.4"/><circle cx="151.94" cy="369.74" r="2.4"/><circle cx="152.77" cy="371.29" r="2.4"/><circle cx="153.61" cy="372.78" r="2.4"/><circle cx="154.45" cy="374.23" r="2.4"/><circle cx="155.28" cy="375.63" r="2.4"/><circle cx="156.12" cy="376.99" r="2.4"/><circle cx="156.96" cy="378.30" r="2.4"/><circle cx="157.79" cy="379.58" r="2.4"/><circle cx="158.63" cy="380.81" r="2.4"/><circle cx="159.47" cy="382.01" r="2.4"/><circle cx="160.31" cy="383.17" r="2.4"/><circle cx="161.14" cy="384.29" r="2.4"/><circle cx="161.98" cy="385.37" r="2.4"/><circle cx="162.82" cy="386.44" r="2.4"/><circle cx="163.65" cy="387.48" r="2.4"/><circle cx="164.49" cy="388.50" r="2.4"/><circle cx="165.33" cy="389.52" r="2.4"/><circle cx="166.16" cy="390.52" r="2.4"/><circle cx="167.00" cy="391.50" r="2.4"/><circle cx="167.84" cy="392.47" r="2.4"/><circle cx="168.67" cy="393.41" r="2.4"/><circle cx="169.51" cy="394.32" r="2.4"/><circle cx="170.35" cy="395.20" r="2.4"/><circle cx="171.18" cy="396.04" r="2.4"/><circle cx="172.02" cy="396.85" r="2.4"/><circle cx="172.86" cy="397.63" r="2.4"/><circle cx="173.69" cy="398.39" r="2.4"/><circle cx="174.53" cy="399.12" r="2.4"/><circle cx="175.37" cy="399.83" r="2.4"/><circle cx="176.21" cy="400.52" r="2.4"/><circle cx="177.04" cy="401.19" r="2.4"/><circle cx="177.88" cy="401.83" r="2.4"/><circle cx="178.72" cy="402.45" r="2.4"/><circle cx="179.55" cy="403.05" r="2.4"/><circle cx="180.39" cy="403.63" r="2.4"/><circle cx="181.23" cy="404.18" r="2.4"/><circle cx="182.06" cy="404.70" r="2.4"/><circle cx="182.90" cy="405.20" r="2.4"/><circle cx="183.74" cy="405.68" r="2.4"/><circle cx="184.57" cy="406.13" r="2.4"/><circle cx="185.41" cy="406.56" r="2.4"/><circle cx="186.25" cy="406.97" r="2.4"/><circle cx="187.08" cy="407.36" r="2.4"/><circle cx="187.92" cy="407.74" r="2.4"/><circle cx="188.76" cy="408.10" r="2.4"/><circle cx="189.59" cy="408.46" r="2.4"/><circle cx="190.43" cy="408.80" r="2.4"/><circle cx="191.27" cy="409.13" r="2.4"/><circle cx="192.11" cy="409.45" r="2.4"/><circle cx="192.94" cy="409.76" r="2.4"/><circle cx="193.78" cy="410.06" r="2.4"/><circle cx="194.62" cy="410.34" r="2.4"/><circle cx="195.45" cy="410.61" r="2.4"/><circle cx="196.29" cy="410.86" r="2.4"/><circle cx="197.13" cy="411.10" r="2.4"/><circle cx="197.96" cy="411.32" r="2.4"/><circle cx="198.80" cy="411.52" r="2.4"/><circle cx="199.64" cy="411.70" r="2.4"/><circle cx="200.47" cy="411.86" r="2.4"/><circle cx="201.31" cy="412.01" r="2.4"/><circle cx="202.15" cy="412.14" r="2.4"/><circle cx="202.98" cy="412.25" r="2.4"/><circle cx="203.82" cy="412.34" r="2.4"/><circle cx="204.66" cy="412.42" r="2.4"/><circle cx="205.49" cy="412.49" r="2.4"/><circle cx="206.33" cy="412.56" r="2.4"/><circle cx="207.17" cy="412.61" r="2.4"/><circle cx="208.01" cy="412.66" r="2.4"/><circle cx="208.84" cy="412.71" r="2.4"/><circle cx="209.68" cy="412.76" r="2.4"/><circle cx="210.52" cy="412.80" r="2.4"/><circle cx="211.35" cy="412.85" r="2.4"/><circle cx="212.19" cy="412.90" r="2.4"/><circle cx="213.03" cy="412.95" r="2.4"/><circle cx="213.86" cy="413.00" r="2.4"/><circle cx="214.70" cy="413.04" r="2.4"/><circle cx="215.54" cy="413.08" r="2.4"/><circle cx="216.37" cy="413.12" r="2.4"/><circle cx="217.21" cy="413.16" r="2.4"/><circle cx="218.05" cy="413.20" r="2.4"/><circle cx="218.88" cy="413.24" r="2.4"/><circle cx="219.72" cy="413.28" r="2.4"/><circle cx="220.56" cy="413.33" r="2.4"/><circle cx="221.39" cy="413.39" r="2.4"/><circle cx="222.23" cy="413.45" r="2.4"/><circle cx="223.07" cy="413.52" r="2.4"/><circle cx="223.91" cy="413.60" r="2.4"/><circle cx="224.74" cy="413.69" r="2.4"/><circle cx="225.58" cy="413.77" r="2.4"/><circle cx="226.42" cy="413.86" r="2.4"/><circle cx="227.25" cy="413.95" r="2.4"/><circle cx="228.09" cy="414.04" r="2.4"/><circle cx="228.93" cy="414.12" r="2.4"/><circle cx="229.76" cy="414.18" r="2.4"/><circle cx="230.60" cy="414.23" r="2.4"/></g><polyline points="290.40,374.71 290.90,375.70 291.40,377.06 291.90,378.81 292.40,380.82 292.90,382.88 293.40,384.64 293.90,385.65 294.40,385.56 294.90,384.27 295.40,381.93 295.90,378.82 296.40,375.15 296.90,371.05 297.40,366.58 297.90,361.81 298.41,356.87 298.91,351.88 299.41,346.97 299.91,342.17 300.41,337.49 300.91,332.90 301.41,328.39 301.91,323.95 302.41,319.58 302.91,315.29 303.41,311.13 303.91,307.19 304.41,303.58 304.91,300.41 305.41,297.72 305.91,295.50 306.41,293.71 306.91,292.31 307.41,291.24 307.91,290.45 308.41,289.87 308.91,289.46 309.41,289.18 309.91,288.97 310.41,288.80 310.91,288.64 311.41,288.49 311.91,288.34 312.41,288.20 312.91,288.08 313.41,287.98 313.91,287.90 314.42,287.86 314.92,287.85 315.42,287.88 315.92,287.94 316.42,288.05 316.92,288.20 317.42,288.39 317.92,288.62 318.42,288.87 318.92,289.14 319.42,289.42 319.92,289.70 320.42,289.99 320.92,290.28 321.42,290.59 321.92,290.92 322.42,291.25 322.92,291.57 323.42,291.85 323.92,292.04 324.42,292.14 324.92,292.12 325.42,292.00 325.92,291.79 326.42,291.52 326.92,291.19 327.42,290.85 327.92,290.49 328.42,290.16 328.92,289.85 329.42,289.58 329.92,289.36 330.43,289.18 330.93,289.02 331.43,288.88 331.93,288.76 332.43,288.65 332.93,288.55 333.43,288.46 333.93,288.38 334.43,288.31 334.93,288.23 335.43,288.16 335.93,288.10 336.43,288.03 336.93,287.97 337.43,287.92 337.93,287.87 338.43,287.84 338.93,287.82 339.43,287.82 339.93,287.84 340.43,287.89 340.93,287.98 341.43,288.10 341.93,288.26 342.43,288.45 342.93,288.67 343.43,288.89 343.93,289.11 344.43,289.33 344.93,289.54 345.43,289.75 345.93,289.97 346.44,290.19 346.94,290.41 347.44,290.60 347.94,290.77 348.44,290.90 348.94,290.99 349.44,291.04 349.94,291.03 350.44,290.99 350.94,290.90 351.44,290.78 351.94,290.62 352.44,290.44 352.94,290.22 353.44,289.97 353.94,289.69 354.44,289.38 354.94,289.01 355.44,288.60 355.94,288.14 356.44,287.64 356.94,287.13 357.44,286.62 357.94,286.13 358.44,285.68 358.94,285.29 359.44,284.96 359.94,284.69 360.44,284.48 360.94,284.33 361.44,284.25 361.94,284.23 362.45,284.29 362.95,284.42 363.45,284.65 363.95,284.97 364.45,285.38 364.95,285.86 365.45,286.37 365.95,286.90 366.45,287.43 366.95,287.95 367.45,288.47 367.95,289.00 368.45,289.52 368.95,290.00 369.45,290.40 369.95,290.70 370.45,290.87 370.95,290.90 371.45,290.79 371.95,290.57 372.45,290.27 372.95,289.92 373.45,289.57 373.95,289.25 374.45,288.99 374.95,288.83 375.45,288.80 375.95,288.93 376.45,289.20 376.95,289.62 377.45,290.13 377.95,290.70 378.46,291.30 378.96,291.89 379.46,292.48 379.96,293.07 380.46,293.67 380.96,294.28 381.46,294.87 381.96,295.42 382.46,295.90 382.96,296.27 383.46,296.52 383.96,296.62 384.46,296.59 384.96,296.43 385.46,296.17 385.96,295.84 386.46,295.46 386.96,295.06 387.46,294.67 387.96,294.31 388.46,294.02 388.96,293.80 389.46,293.67 389.96,293.62 390.46,293.65 390.96,293.73 391.46,293.84 391.96,293.97 392.46,294.09 392.96,294.18 393.46,294.24 393.96,294.24 394.47,294.18 394.97,294.05 395.47,293.87 395.97,293.64 396.47,293.35 396.97,293.00 397.47,292.57 397.97,292.03 398.47,291.39 398.97,290.64 399.47,289.87 399.97,289.16 400.47,288.61 400.97,288.30 401.47,288.23 401.97,288.38 402.47,288.71 402.97,289.18 403.47,289.75 403.97,290.40 404.47,291.11 404.97,291.87 405.47,292.69 405.97,293.58 406.47,294.55 406.97,295.57 407.47,296.62 407.97,297.64 408.47,298.60 408.97,299.47 409.47,300.25 409.97,300.95 410.48,301.57 410.98,302.11 411.48,302.58 411.98,302.95 412.48,303.23 412.98,303.40 413.48,303.46 413.98,303.41 414.48,303.28 414.98,303.08 415.48,302.84 415.98,302.57 416.48,302.29 416.98,301.98 417.48,301.65 417.98,301.29 418.48,300.91 418.98,300.51 419.48,300.13 419.98,299.75 420.48,299.41 420.98,299.12 421.48,298.88 421.98,298.72 422.48,298.65 422.98,298.68 423.48,298.81 423.98,299.06 424.48,299.39 424.98,299.79 425.48,300.23 425.98,300.71 426.49,301.19 426.99,301.65 427.49,302.11 427.99,302.56 428.49,303.01 428.99,303.48 429.49,303.95 429.99,304.42 430.49,304.85 430.99,305.23 431.49,305.53 431.99,305.73 432.49,305.80 432.99,305.73 433.49,305.51 433.99,305.16 434.49,304.72 434.99,304.21 435.49,303.69 435.99,303.18 436.49,302.71 436.99,302.29 437.49,301.91 437.99,301.54 438.49,301.20 438.99,300.86 439.49,300.54 439.99,300.24 440.49,299.98 440.99,299.75 441.49,299.58 441.99,299.45 442.50,299.38 443.00,299.36 443.50,299.40 444.00,299.47 444.50,299.59 445.00,299.73 445.50,299.90 446.00,300.09 446.50,300.30 447.00,300.52 447.50,300.74 448.00,300.97 448.50,301.17 449.00,301.34 449.50,301.47 450.00,301.57" stroke="#ee1111" stroke-width="4.8" fill="none" stroke-linejoin="round" stroke-linecap="round"/><polyline points="508.10,393.67 508.60,393.71 509.10,393.76 509.60,393.81 510.11,393.87 510.61,393.94 511.11,394.01 511.61,394.09 512.11,394.17 512.61,394.26 513.11,394.34 513.62,394.42 514.12,394.50 514.62,394.57 515.12,394.63 515.62,394.69 516.12,394.74 516.62,394.77 517.13,394.80 517.63,394.82 518.13,394.83 518.63,394.83 519.13,394.82 519.63,394.81 520.14,394.79 520.64,394.76 521.14,394.73 521.64,394.69 522.14,394.64 522.64,394.59 523.14,394.54 523.65,394.48 524.15,394.42 524.65,394.36 525.15,394.29 525.65,394.22 526.15,394.15 526.65,394.07 527.16,393.99 527.66,393.91 528.16,393.83 528.66,393.75 529.16,393.66 529.66,393.57 530.16,393.48 530.67,393.39 531.17,393.29 531.67,393.19 532.17,393.09 532.67,392.99 533.17,392.88 533.67,392.77 534.18,392.66 534.68,392.54 535.18,392.42 535.68,392.30 536.18,392.18 536.68,392.06 537.18,391.93 537.69,391.80 538.19,391.67 538.69,391.54 539.19,391.42 539.69,391.29 540.19,391.15 540.70,391.02 541.20,390.90 541.70,390.77 542.20,390.64 542.70,390.51 543.20,390.38 543.70,390.26 544.21,390.13 544.71,390.01 545.21,389.89 545.71,389.76 546.21,389.64 546.71,389.52 547.21,389.40 547.72,389.28 548.22,389.15 548.72,389.03 549.22,388.91 549.72,388.79 550.22,388.66 550.72,388.53 551.23,388.41 551.73,388.28 552.23,388.15 552.73,388.02 553.23,387.88 553.73,387.75 554.23,387.61 554.74,387.46 555.24,387.32 555.74,387.17 556.24,387.02 556.74,386.86 557.24,386.70 557.75,386.53 558.25,386.35 558.75,386.15 559.25,385.95 559.75,385.73 560.25,385.50 560.75,385.25 561.26,384.99 561.76,384.71 562.26,384.41 562.76,384.10 563.26,383.77 563.76,383.42 564.26,383.06 564.77,382.69 565.27,382.30 565.77,381.89 566.27,381.47 566.77,381.03 567.27,380.57 567.77,380.09 568.28,379.59 568.78,379.08 569.28,378.54 569.78,377.98 570.28,377.40 570.78,376.80 571.28,376.18 571.79,375.55 572.29,374.90 572.79,374.24 573.29,373.56 573.79,372.87 574.29,372.18 574.79,371.48 575.30,370.77 575.80,370.05 576.30,369.33 576.80,368.61 577.30,367.87 577.80,367.14 578.31,366.40 578.81,365.65 579.31,364.90 579.81,364.15 580.31,363.39 580.81,362.63 581.31,361.87 581.82,361.11 582.32,360.35 582.82,359.60 583.32,358.85 583.82,358.10 584.32,357.36 584.82,356.63 585.33,355.90 585.83,355.18 586.33,354.46 586.83,353.75 587.33,353.04 587.83,352.34 588.33,351.63 588.84,350.93 589.34,350.23 589.84,349.53 590.34,348.84 590.84,348.14 591.34,347.44 591.84,346.74 592.35,346.04 592.85,345.34 593.35,344.63 593.85,343.93 594.35,343.23 594.85,342.53 595.35,341.82 595.86,341.11 596.36,340.40 596.86,339.68 597.36,338.96 597.86,338.22 598.36,337.48 598.87,336.73 599.37,335.97 599.87,335.19 600.37,334.41 600.87,333.61 601.37,332.79 601.87,331.97 602.38,331.14 602.88,330.30 603.38,329.46 603.88,328.62 604.38,327.77 604.88,326.92 605.38,326.08 605.89,325.25 606.39,324.42 606.89,323.60 607.39,322.79 607.89,321.99 608.39,321.20 608.89,320.42 609.40,319.65 609.90,318.89 610.40,318.14 610.90,317.39 611.40,316.65 611.90,315.91 612.40,315.18 612.91,314.44 613.41,313.72 613.91,312.99 614.41,312.26 614.91,311.53 615.41,310.80 615.92,310.06 616.42,309.33 616.92,308.60 617.42,307.87 617.92,307.15 618.42,306.43 618.92,305.73 619.43,305.04 619.93,304.37 620.43,303.72 620.93,303.09 621.43,302.49 621.93,301.92 622.43,301.38 622.94,300.87 623.44,300.40 623.94,299.96 624.44,299.56 624.94,299.19 625.44,298.86 625.94,298.56 626.45,298.30 626.95,298.07 627.45,297.87 627.95,297.69 628.45,297.54 628.95,297.41 629.45,297.30 629.96,297.21 630.46,297.13 630.96,297.06 631.46,297.00 631.96,296.95 632.46,296.90 632.96,296.86 633.47,296.81 633.97,296.77 634.47,296.72 634.97,296.67 635.47,296.62 635.97,296.57 636.48,296.51 636.98,296.44 637.48,296.38 637.98,296.31 638.48,296.24 638.98,296.17 639.48,296.10 639.99,296.03 640.49,295.97 640.99,295.90 641.49,295.84 641.99,295.78 642.49,295.72 642.99,295.68 643.50,295.63 644.00,295.59 644.50,295.56 645.00,295.53" stroke="#ee1111" stroke-width="4.6" fill="none" stroke-linejoin="round" stroke-linecap="round"/>
</svg></body></html>
